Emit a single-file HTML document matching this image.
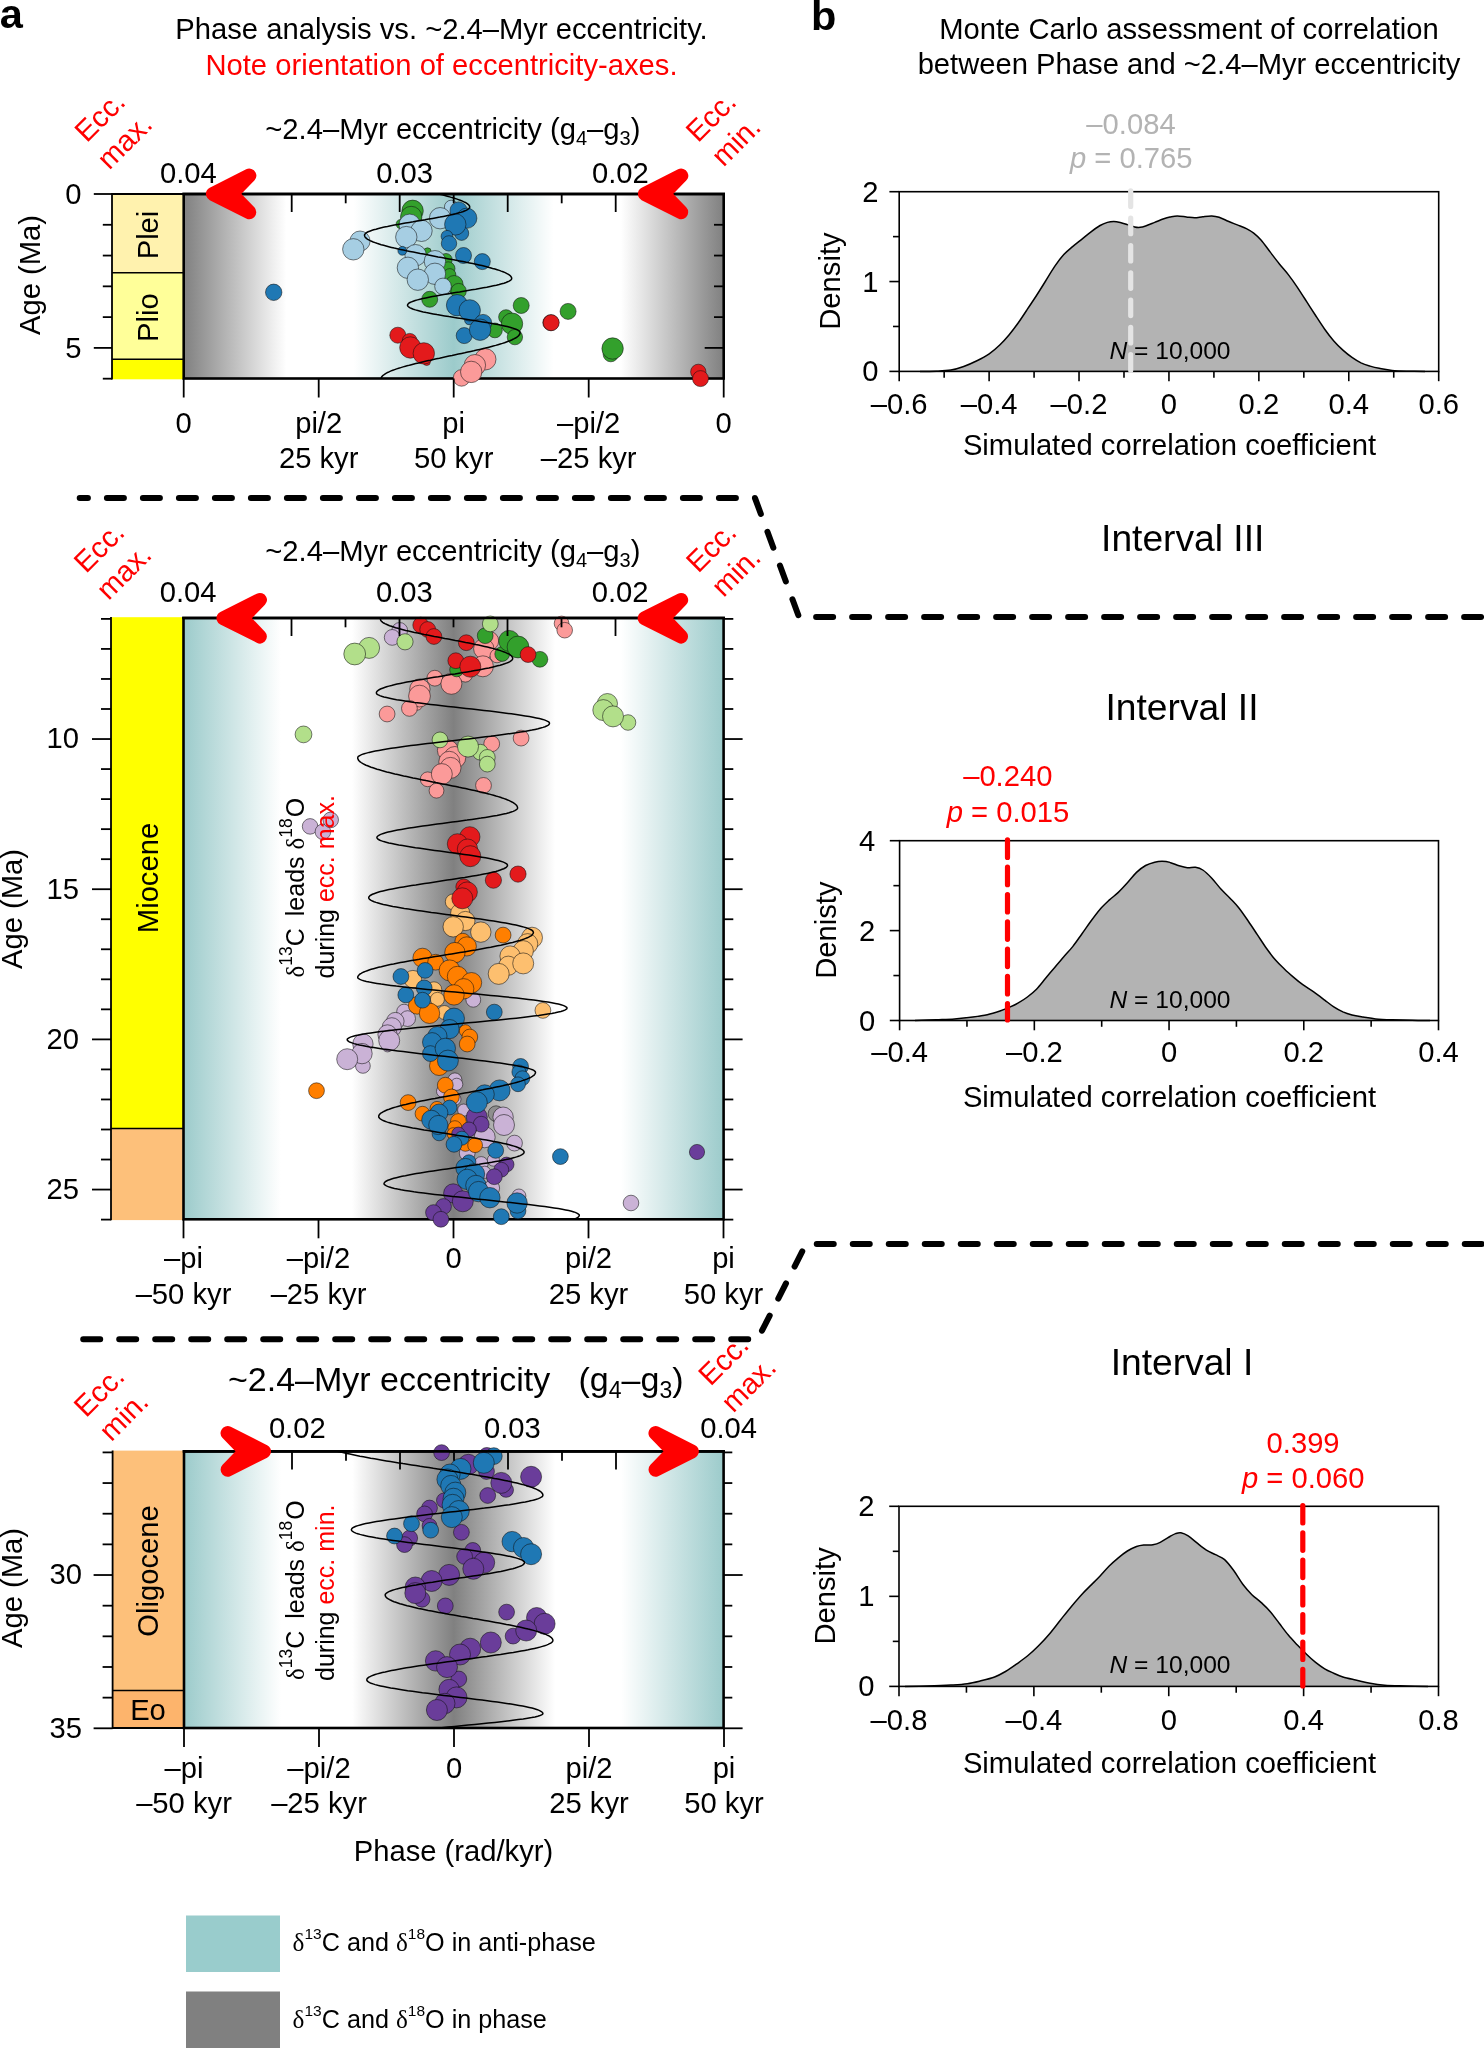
<!DOCTYPE html>
<html><head><meta charset="utf-8"><title>Figure</title>
<style>html,body{margin:0;padding:0;background:#fff}svg{display:block;will-change:transform}text{font-family:'Liberation Sans', sans-serif;}circle{stroke:#111;stroke-width:.55}.d{font-family:'Liberation Serif',serif}</style></head><body>
<svg width="1484" height="2048" viewBox="0 0 1484 2048">
<defs>
<linearGradient id="g1" x1="0" x2="1" y1="0" y2="0">
<stop offset="0" stop-color="#808080"/><stop offset="0.19" stop-color="#fff"/><stop offset="0.315" stop-color="#fff"/>
<stop offset="0.5" stop-color="#9ccbcb"/><stop offset="0.685" stop-color="#fff"/><stop offset="0.81" stop-color="#fff"/><stop offset="1" stop-color="#808080"/></linearGradient>
<linearGradient id="g2" x1="0" x2="1" y1="0" y2="0">
<stop offset="0" stop-color="#9ccbcb"/><stop offset="0.18" stop-color="#fff"/><stop offset="0.312" stop-color="#fff"/>
<stop offset="0.5" stop-color="#808080"/><stop offset="0.688" stop-color="#fff"/><stop offset="0.81" stop-color="#fff"/><stop offset="1" stop-color="#9ccbcb"/></linearGradient>
<clipPath id="c1"><rect x="183.7" y="194" width="540" height="184.5"/></clipPath>
<clipPath id="c2"><rect x="183.5" y="618" width="540" height="601.3"/></clipPath>
<clipPath id="c3"><rect x="184" y="1451.4" width="540" height="276.6"/></clipPath>
</defs>
<rect width="1484" height="2048" fill="#fff"/>
<rect x="183.70" y="194.00" width="540.00" height="184.50" fill="url(#g1)" stroke="none" stroke-width="0"/>
<rect x="112.00" y="194.00" width="71.70" height="78.70" fill="#FFF2AE" stroke="none" stroke-width="0"/>
<rect x="112.00" y="272.70" width="71.70" height="86.60" fill="#FFFF99" stroke="none" stroke-width="0"/>
<rect x="112.00" y="359.30" width="71.70" height="20.00" fill="#FFFF00" stroke="none" stroke-width="0"/>
<line x1="112.00" y1="272.70" x2="183.70" y2="272.70" stroke="#000" stroke-width="1.6" stroke-linecap="butt"/>
<line x1="112.00" y1="359.30" x2="183.70" y2="359.30" stroke="#000" stroke-width="1.6" stroke-linecap="butt"/>
<line x1="112.00" y1="194.00" x2="183.70" y2="194.00" stroke="#000" stroke-width="1.8" stroke-linecap="butt"/>
<line x1="112.00" y1="193.00" x2="112.00" y2="379.50" stroke="#000" stroke-width="1.8" stroke-linecap="butt"/>
<line x1="93.80" y1="194.00" x2="112.00" y2="194.00" stroke="#000" stroke-width="1.8" stroke-linecap="butt"/>
<line x1="102.80" y1="224.78" x2="112.00" y2="224.78" stroke="#000" stroke-width="1.8" stroke-linecap="butt"/>
<line x1="102.80" y1="255.56" x2="112.00" y2="255.56" stroke="#000" stroke-width="1.8" stroke-linecap="butt"/>
<line x1="102.80" y1="286.34" x2="112.00" y2="286.34" stroke="#000" stroke-width="1.8" stroke-linecap="butt"/>
<line x1="102.80" y1="317.12" x2="112.00" y2="317.12" stroke="#000" stroke-width="1.8" stroke-linecap="butt"/>
<line x1="93.80" y1="347.90" x2="112.00" y2="347.90" stroke="#000" stroke-width="1.8" stroke-linecap="butt"/>
<line x1="102.80" y1="378.68" x2="112.00" y2="378.68" stroke="#000" stroke-width="1.8" stroke-linecap="butt"/>
<line x1="714.00" y1="224.78" x2="723.70" y2="224.78" stroke="#000" stroke-width="1.8" stroke-linecap="butt"/>
<line x1="714.00" y1="255.56" x2="723.70" y2="255.56" stroke="#000" stroke-width="1.8" stroke-linecap="butt"/>
<line x1="714.00" y1="286.34" x2="723.70" y2="286.34" stroke="#000" stroke-width="1.8" stroke-linecap="butt"/>
<line x1="714.00" y1="317.12" x2="723.70" y2="317.12" stroke="#000" stroke-width="1.8" stroke-linecap="butt"/>
<line x1="704.70" y1="347.90" x2="723.70" y2="347.90" stroke="#000" stroke-width="1.8" stroke-linecap="butt"/>
<g clip-path="url(#c1)">
</g>
<rect x="183.70" y="194.00" width="540.00" height="184.50" fill="none" stroke="#000" stroke-width="2.6"/>
<circle cx="412.6" cy="210.8" r="10.7" fill="#33A02C"/>
<circle cx="411.2" cy="217.0" r="10.7" fill="#33A02C"/>
<circle cx="400.8" cy="224.1" r="4.7" fill="#33A02C"/>
<circle cx="427.5" cy="251.5" r="3.7" fill="#33A02C"/>
<circle cx="446.0" cy="259.7" r="6.2" fill="#33A02C"/>
<circle cx="448.2" cy="268.6" r="6.8" fill="#33A02C"/>
<circle cx="449.7" cy="274.8" r="6.2" fill="#33A02C"/>
<circle cx="454.2" cy="284.4" r="8.9" fill="#33A02C"/>
<circle cx="458.6" cy="291.1" r="7.7" fill="#33A02C"/>
<circle cx="429.7" cy="299.3" r="8.0" fill="#33A02C"/>
<circle cx="521.2" cy="305.5" r="8.0" fill="#33A02C"/>
<circle cx="506.0" cy="317.1" r="7.4" fill="#33A02C"/>
<circle cx="512.0" cy="323.7" r="10.7" fill="#33A02C"/>
<circle cx="494.9" cy="330.4" r="7.4" fill="#33A02C"/>
<circle cx="514.9" cy="337.1" r="7.7" fill="#33A02C"/>
<circle cx="568.1" cy="311.4" r="8.0" fill="#33A02C"/>
<circle cx="610.8" cy="354.1" r="7.7" fill="#33A02C"/>
<circle cx="612.6" cy="348.5" r="10.7" fill="#33A02C"/>
<circle cx="451.2" cy="207.0" r="6.8" fill="#A6CEE3"/>
<circle cx="440.1" cy="218.2" r="10.7" fill="#A6CEE3"/>
<circle cx="409.7" cy="224.8" r="10.7" fill="#A6CEE3"/>
<circle cx="421.5" cy="230.8" r="10.7" fill="#A6CEE3"/>
<circle cx="406.3" cy="237.1" r="10.7" fill="#A6CEE3"/>
<circle cx="360.0" cy="241.1" r="10.1" fill="#A6CEE3"/>
<circle cx="353.3" cy="249.3" r="10.7" fill="#A6CEE3"/>
<circle cx="415.6" cy="255.2" r="10.7" fill="#A6CEE3"/>
<circle cx="434.9" cy="261.2" r="10.7" fill="#A6CEE3"/>
<circle cx="407.9" cy="267.8" r="10.7" fill="#A6CEE3"/>
<circle cx="434.9" cy="273.8" r="10.7" fill="#A6CEE3"/>
<circle cx="417.8" cy="279.7" r="10.7" fill="#A6CEE3"/>
<circle cx="443.0" cy="286.4" r="8.3" fill="#A6CEE3"/>
<circle cx="402.3" cy="250.8" r="4.4" fill="#1F78B4"/>
<circle cx="458.6" cy="210.5" r="8.6" fill="#1F78B4"/>
<circle cx="466.8" cy="218.2" r="10.1" fill="#1F78B4"/>
<circle cx="461.6" cy="233.3" r="7.1" fill="#1F78B4"/>
<circle cx="455.3" cy="224.4" r="10.7" fill="#1F78B4"/>
<circle cx="447.0" cy="236.3" r="5.9" fill="#1F78B4"/>
<circle cx="449.0" cy="243.4" r="7.7" fill="#1F78B4"/>
<circle cx="463.5" cy="255.5" r="8.0" fill="#1F78B4"/>
<circle cx="482.3" cy="261.6" r="8.0" fill="#1F78B4"/>
<circle cx="469.0" cy="320.3" r="4.4" fill="#1F78B4"/>
<circle cx="457.1" cy="305.2" r="10.7" fill="#1F78B4"/>
<circle cx="469.7" cy="310.4" r="10.7" fill="#1F78B4"/>
<circle cx="483.1" cy="323.0" r="8.6" fill="#1F78B4"/>
<circle cx="464.2" cy="335.6" r="8.0" fill="#1F78B4"/>
<circle cx="480.1" cy="329.7" r="10.7" fill="#1F78B4"/>
<circle cx="273.7" cy="292.3" r="8.2" fill="#1F78B4"/>
<circle cx="426.7" cy="361.8" r="3.7" fill="#E31A1C"/>
<circle cx="397.8" cy="335.2" r="8.0" fill="#E31A1C"/>
<circle cx="409.7" cy="340.8" r="7.4" fill="#E31A1C"/>
<circle cx="410.4" cy="347.5" r="10.7" fill="#E31A1C"/>
<circle cx="423.8" cy="353.4" r="10.7" fill="#E31A1C"/>
<circle cx="550.8" cy="322.7" r="8.0" fill="#E31A1C"/>
<circle cx="551.2" cy="322.7" r="8.0" fill="#E31A1C"/>
<circle cx="698.3" cy="371.9" r="7.7" fill="#E31A1C"/>
<circle cx="700.5" cy="378.6" r="8.0" fill="#E31A1C"/>
<circle cx="485.3" cy="359.3" r="10.7" fill="#FB9A99"/>
<circle cx="474.9" cy="365.2" r="10.7" fill="#FB9A99"/>
<circle cx="461.6" cy="377.9" r="8.3" fill="#FB9A99"/>
<circle cx="471.2" cy="371.9" r="10.7" fill="#FB9A99"/>
<path d="M405.0,180.0 L405.1,180.7 L405.4,181.3 L405.9,182.0 L406.6,182.7 L407.5,183.4 L408.5,184.1 L409.8,184.7 L411.2,185.4 L412.8,186.1 L414.5,186.8 L416.3,187.4 L418.3,188.1 L420.4,188.8 L422.7,189.4 L425.0,190.1 L427.4,190.8 L429.8,191.5 L432.3,192.2 L434.8,192.8 L437.3,193.5 L439.9,194.2 L442.4,194.8 L444.9,195.5 L447.3,196.2 L449.7,196.9 L452.0,197.6 L454.3,198.2 L456.4,198.9 L458.4,199.6 L460.2,200.2 L461.9,200.9 L463.5,201.6 L464.9,202.3 L466.2,202.9 L467.2,203.6 L468.1,204.3 L468.8,205.0 L469.3,205.7 L469.6,206.3 L469.7,207.0 L469.6,207.7 L469.1,208.3 L468.4,209.0 L467.4,209.7 L466.1,210.4 L464.5,211.0 L462.7,211.7 L460.6,212.4 L458.2,213.0 L455.7,213.7 L452.9,214.4 L449.9,215.1 L446.7,215.7 L443.4,216.4 L439.9,217.1 L436.3,217.7 L432.6,218.4 L428.8,219.1 L424.9,219.8 L421.0,220.4 L417.1,221.1 L413.2,221.8 L409.3,222.4 L405.4,223.1 L401.6,223.8 L397.9,224.5 L394.3,225.1 L390.8,225.8 L387.5,226.5 L384.3,227.1 L381.3,227.8 L378.5,228.5 L376.0,229.2 L373.6,229.8 L371.5,230.5 L369.7,231.2 L368.1,231.8 L366.8,232.5 L365.8,233.2 L365.1,233.9 L364.6,234.5 L364.5,235.2 L364.6,235.9 L364.9,236.6 L365.3,237.2 L365.9,237.9 L366.7,238.6 L367.7,239.3 L368.8,239.9 L370.1,240.6 L371.6,241.3 L373.2,242.0 L375.0,242.6 L376.9,243.3 L379.0,244.0 L381.2,244.7 L383.6,245.3 L386.1,246.0 L388.7,246.7 L391.4,247.4 L394.3,248.1 L397.2,248.7 L400.3,249.4 L403.4,250.1 L406.6,250.8 L409.9,251.4 L413.3,252.1 L416.7,252.8 L420.2,253.5 L423.7,254.1 L427.3,254.8 L430.9,255.5 L434.5,256.2 L438.1,256.9 L441.7,257.5 L445.3,258.2 L448.9,258.9 L452.5,259.6 L456.0,260.2 L459.5,260.9 L462.9,261.6 L466.3,262.3 L469.6,262.9 L472.8,263.6 L475.9,264.3 L479.0,265.0 L481.9,265.6 L484.8,266.3 L487.5,267.0 L490.1,267.7 L492.6,268.4 L495.0,269.0 L497.2,269.7 L499.3,270.4 L501.2,271.1 L503.0,271.7 L504.6,272.4 L506.1,273.1 L507.4,273.8 L508.5,274.4 L509.5,275.1 L510.3,275.8 L510.9,276.5 L511.3,277.1 L511.6,277.8 L511.7,278.5 L511.5,279.2 L511.1,279.8 L510.3,280.5 L509.2,281.2 L507.7,281.8 L506.0,282.5 L504.0,283.2 L501.7,283.8 L499.2,284.5 L496.4,285.2 L493.4,285.8 L490.2,286.5 L486.8,287.2 L483.3,287.8 L479.5,288.5 L475.7,289.2 L471.8,289.8 L467.8,290.5 L463.7,291.2 L459.6,291.9 L455.5,292.5 L451.4,293.2 L447.4,293.9 L443.5,294.5 L439.7,295.2 L435.9,295.9 L432.4,296.5 L429.0,297.2 L425.8,297.9 L422.8,298.5 L420.0,299.2 L417.5,299.9 L415.2,300.5 L413.2,301.2 L411.5,301.9 L410.0,302.5 L408.9,303.2 L408.1,303.9 L407.7,304.5 L407.5,305.2 L407.7,305.9 L408.2,306.5 L409.0,307.2 L410.1,307.9 L411.6,308.5 L413.3,309.2 L415.4,309.9 L417.8,310.5 L420.4,311.2 L423.2,311.9 L426.3,312.6 L429.7,313.2 L433.2,313.9 L436.9,314.6 L440.8,315.2 L444.8,315.9 L448.9,316.6 L453.1,317.2 L457.3,317.9 L461.6,318.6 L466.0,319.2 L470.3,319.9 L474.5,320.6 L478.7,321.2 L482.8,321.9 L486.8,322.6 L490.7,323.2 L494.4,323.9 L497.9,324.6 L501.3,325.2 L504.4,325.9 L507.2,326.6 L509.8,327.3 L512.2,327.9 L514.3,328.6 L516.0,329.3 L517.5,329.9 L518.6,330.6 L519.4,331.3 L519.9,331.9 L520.1,332.6 L520.0,333.3 L519.8,333.9 L519.5,334.6 L518.9,335.3 L518.3,336.0 L517.5,336.6 L516.6,337.3 L515.5,338.0 L514.3,338.7 L513.0,339.3 L511.6,340.0 L510.0,340.7 L508.3,341.3 L506.4,342.0 L504.5,342.7 L502.4,343.4 L500.3,344.0 L498.0,344.7 L495.7,345.4 L493.2,346.0 L490.7,346.7 L488.0,347.4 L485.3,348.1 L482.5,348.7 L479.7,349.4 L476.8,350.1 L473.8,350.8 L470.8,351.4 L467.8,352.1 L464.7,352.8 L461.6,353.4 L458.4,354.1 L455.3,354.8 L452.1,355.5 L449.0,356.1 L445.8,356.8 L442.7,357.5 L439.5,358.2 L436.4,358.8 L433.3,359.5 L430.3,360.2 L427.3,360.8 L424.3,361.5 L421.4,362.2 L418.6,362.9 L415.8,363.5 L413.1,364.2 L410.4,364.9 L407.9,365.6 L405.4,366.2 L403.1,366.9 L400.8,367.6 L398.7,368.2 L396.6,368.9 L394.7,369.6 L392.8,370.3 L391.1,370.9 L389.5,371.6 L388.1,372.3 L386.8,372.9 L385.6,373.6 L384.5,374.3 L383.6,375.0 L382.8,375.6 L382.2,376.3 L381.6,377.0 L381.3,377.7 L381.1,378.3 L381.0,379.0" fill="none" stroke="#000" stroke-width="1.5" clip-path="url(#c1)"/>
<line x1="237.70" y1="194.00" x2="237.70" y2="203.30" stroke="#000" stroke-width="1.8" stroke-linecap="butt"/>
<line x1="291.70" y1="194.00" x2="291.70" y2="212.00" stroke="#000" stroke-width="1.8" stroke-linecap="butt"/>
<line x1="345.70" y1="194.00" x2="345.70" y2="203.30" stroke="#000" stroke-width="1.8" stroke-linecap="butt"/>
<line x1="399.70" y1="194.00" x2="399.70" y2="212.00" stroke="#000" stroke-width="1.8" stroke-linecap="butt"/>
<line x1="453.70" y1="194.00" x2="453.70" y2="203.30" stroke="#000" stroke-width="1.8" stroke-linecap="butt"/>
<line x1="507.70" y1="194.00" x2="507.70" y2="212.00" stroke="#000" stroke-width="1.8" stroke-linecap="butt"/>
<line x1="561.70" y1="194.00" x2="561.70" y2="203.30" stroke="#000" stroke-width="1.8" stroke-linecap="butt"/>
<line x1="615.70" y1="194.00" x2="615.70" y2="212.00" stroke="#000" stroke-width="1.8" stroke-linecap="butt"/>
<line x1="669.70" y1="194.00" x2="669.70" y2="203.30" stroke="#000" stroke-width="1.8" stroke-linecap="butt"/>
<line x1="182.40" y1="194.00" x2="725.00" y2="194.00" stroke="#000" stroke-width="2.6" stroke-linecap="butt"/>
<line x1="183.70" y1="378.50" x2="183.70" y2="397.50" stroke="#000" stroke-width="1.8" stroke-linecap="butt"/>
<text x="183.70" y="432.60" font-size="29.2" text-anchor="middle" fill="#000">0</text>
<line x1="318.70" y1="378.50" x2="318.70" y2="397.50" stroke="#000" stroke-width="1.8" stroke-linecap="butt"/>
<text x="318.70" y="432.60" font-size="29.2" text-anchor="middle" fill="#000">pi/2</text>
<text x="318.70" y="468.20" font-size="29.2" text-anchor="middle" fill="#000">25 kyr</text>
<line x1="453.70" y1="378.50" x2="453.70" y2="397.50" stroke="#000" stroke-width="1.8" stroke-linecap="butt"/>
<text x="453.70" y="432.60" font-size="29.2" text-anchor="middle" fill="#000">pi</text>
<text x="453.70" y="468.20" font-size="29.2" text-anchor="middle" fill="#000">50 kyr</text>
<line x1="588.70" y1="378.50" x2="588.70" y2="397.50" stroke="#000" stroke-width="1.8" stroke-linecap="butt"/>
<text x="588.70" y="432.60" font-size="29.2" text-anchor="middle" fill="#000">–pi/2</text>
<text x="588.70" y="468.20" font-size="29.2" text-anchor="middle" fill="#000">–25 kyr</text>
<line x1="723.70" y1="378.50" x2="723.70" y2="397.50" stroke="#000" stroke-width="1.8" stroke-linecap="butt"/>
<text x="723.70" y="432.60" font-size="29.2" text-anchor="middle" fill="#000">0</text>
<text x="81.50" y="203.80" font-size="29.2" text-anchor="end" fill="#000">0</text>
<text x="81.50" y="357.80" font-size="29.2" text-anchor="end" fill="#000">5</text>
<text x="40.40" y="275.00" font-size="29.2" text-anchor="middle" fill="#000" transform="rotate(-90 40.40 275.00)">Age (Ma)</text>
<text x="157.70" y="235.00" font-size="29.2" text-anchor="middle" fill="#000" transform="rotate(-90 157.70 235.00)">Plei</text>
<text x="157.70" y="317.60" font-size="29.2" text-anchor="middle" fill="#000" transform="rotate(-90 157.70 317.60)">Plio</text>
<text x="188.40" y="182.80" font-size="29.2" text-anchor="middle" fill="#000">0.04</text>
<text x="404.60" y="182.80" font-size="29.2" text-anchor="middle" fill="#000">0.03</text>
<text x="620.40" y="182.80" font-size="29.2" text-anchor="middle" fill="#000">0.02</text>
<text x="265.3" y="138.5" font-size="29.2" fill="#000">~2.4–Myr eccentricity (g<tspan font-size="20" dy="6">4</tspan><tspan dy="-6">–g</tspan><tspan font-size="20" dy="6">3</tspan><tspan dy="-6">)</tspan></text>
<polygon points="212.9,193.9 249.3,175.6 231.6,193.9 249.3,212.2" fill="#f00" stroke="#f00" stroke-width="14" stroke-linejoin="round"/>
<polygon points="644.8,193.9 681.2,175.6 663.5,193.9 681.2,212.2" fill="#f00" stroke="#f00" stroke-width="14" stroke-linejoin="round"/>
<text x="86.80" y="143.60" font-size="29.2" text-anchor="start" fill="#f00" transform="rotate(-45 86.80 143.60)">Ecc.</text>
<text x="109.30" y="170.80" font-size="29.2" text-anchor="start" fill="#f00" transform="rotate(-45 109.30 170.80)">max.</text>
<text x="697.90" y="143.60" font-size="29.2" text-anchor="start" fill="#f00" transform="rotate(-45 697.90 143.60)">Ecc.</text>
<text x="723.50" y="167.70" font-size="29.2" text-anchor="start" fill="#f00" transform="rotate(-45 723.50 167.70)">min.</text>
<text x="-0.30" y="27.50" font-size="41.5" text-anchor="start" fill="#000" font-weight="bold">a</text>
<text x="441.50" y="39.30" font-size="29.2" text-anchor="middle" fill="#000">Phase analysis vs. ~2.4–Myr eccentricity.</text>
<text x="441.50" y="74.50" font-size="29.2" text-anchor="middle" fill="#f00">Note orientation of eccentricity-axes.</text>
<rect x="183.50" y="618.00" width="540.10" height="601.30" fill="url(#g2)" stroke="none" stroke-width="0"/>
<rect x="111.00" y="617.20" width="72.50" height="511.30" fill="#FFFF00" stroke="none" stroke-width="0"/>
<rect x="111.00" y="1128.50" width="72.50" height="91.60" fill="#FDC07A" stroke="none" stroke-width="0"/>
<line x1="111.00" y1="1128.50" x2="183.50" y2="1128.50" stroke="#000" stroke-width="1.6" stroke-linecap="butt"/>
<line x1="111.00" y1="617.00" x2="111.00" y2="1220.30" stroke="#000" stroke-width="1.8" stroke-linecap="butt"/>
<line x1="101.00" y1="618.90" x2="111.00" y2="618.90" stroke="#000" stroke-width="1.8" stroke-linecap="butt"/>
<line x1="723.60" y1="618.90" x2="733.30" y2="618.90" stroke="#000" stroke-width="1.8" stroke-linecap="butt"/>
<line x1="101.00" y1="648.93" x2="111.00" y2="648.93" stroke="#000" stroke-width="1.8" stroke-linecap="butt"/>
<line x1="723.60" y1="648.93" x2="733.30" y2="648.93" stroke="#000" stroke-width="1.8" stroke-linecap="butt"/>
<line x1="101.00" y1="678.97" x2="111.00" y2="678.97" stroke="#000" stroke-width="1.8" stroke-linecap="butt"/>
<line x1="723.60" y1="678.97" x2="733.30" y2="678.97" stroke="#000" stroke-width="1.8" stroke-linecap="butt"/>
<line x1="101.00" y1="709.00" x2="111.00" y2="709.00" stroke="#000" stroke-width="1.8" stroke-linecap="butt"/>
<line x1="723.60" y1="709.00" x2="733.30" y2="709.00" stroke="#000" stroke-width="1.8" stroke-linecap="butt"/>
<line x1="92.00" y1="739.04" x2="111.00" y2="739.04" stroke="#000" stroke-width="1.8" stroke-linecap="butt"/>
<line x1="723.60" y1="739.04" x2="742.60" y2="739.04" stroke="#000" stroke-width="1.8" stroke-linecap="butt"/>
<line x1="101.00" y1="769.07" x2="111.00" y2="769.07" stroke="#000" stroke-width="1.8" stroke-linecap="butt"/>
<line x1="723.60" y1="769.07" x2="733.30" y2="769.07" stroke="#000" stroke-width="1.8" stroke-linecap="butt"/>
<line x1="101.00" y1="799.11" x2="111.00" y2="799.11" stroke="#000" stroke-width="1.8" stroke-linecap="butt"/>
<line x1="723.60" y1="799.11" x2="733.30" y2="799.11" stroke="#000" stroke-width="1.8" stroke-linecap="butt"/>
<line x1="101.00" y1="829.14" x2="111.00" y2="829.14" stroke="#000" stroke-width="1.8" stroke-linecap="butt"/>
<line x1="723.60" y1="829.14" x2="733.30" y2="829.14" stroke="#000" stroke-width="1.8" stroke-linecap="butt"/>
<line x1="101.00" y1="859.18" x2="111.00" y2="859.18" stroke="#000" stroke-width="1.8" stroke-linecap="butt"/>
<line x1="723.60" y1="859.18" x2="733.30" y2="859.18" stroke="#000" stroke-width="1.8" stroke-linecap="butt"/>
<line x1="92.00" y1="889.21" x2="111.00" y2="889.21" stroke="#000" stroke-width="1.8" stroke-linecap="butt"/>
<line x1="723.60" y1="889.21" x2="742.60" y2="889.21" stroke="#000" stroke-width="1.8" stroke-linecap="butt"/>
<line x1="101.00" y1="919.25" x2="111.00" y2="919.25" stroke="#000" stroke-width="1.8" stroke-linecap="butt"/>
<line x1="723.60" y1="919.25" x2="733.30" y2="919.25" stroke="#000" stroke-width="1.8" stroke-linecap="butt"/>
<line x1="101.00" y1="949.28" x2="111.00" y2="949.28" stroke="#000" stroke-width="1.8" stroke-linecap="butt"/>
<line x1="723.60" y1="949.28" x2="733.30" y2="949.28" stroke="#000" stroke-width="1.8" stroke-linecap="butt"/>
<line x1="101.00" y1="979.32" x2="111.00" y2="979.32" stroke="#000" stroke-width="1.8" stroke-linecap="butt"/>
<line x1="723.60" y1="979.32" x2="733.30" y2="979.32" stroke="#000" stroke-width="1.8" stroke-linecap="butt"/>
<line x1="101.00" y1="1009.35" x2="111.00" y2="1009.35" stroke="#000" stroke-width="1.8" stroke-linecap="butt"/>
<line x1="723.60" y1="1009.35" x2="733.30" y2="1009.35" stroke="#000" stroke-width="1.8" stroke-linecap="butt"/>
<line x1="92.00" y1="1039.39" x2="111.00" y2="1039.39" stroke="#000" stroke-width="1.8" stroke-linecap="butt"/>
<line x1="723.60" y1="1039.39" x2="742.60" y2="1039.39" stroke="#000" stroke-width="1.8" stroke-linecap="butt"/>
<line x1="101.00" y1="1069.42" x2="111.00" y2="1069.42" stroke="#000" stroke-width="1.8" stroke-linecap="butt"/>
<line x1="723.60" y1="1069.42" x2="733.30" y2="1069.42" stroke="#000" stroke-width="1.8" stroke-linecap="butt"/>
<line x1="101.00" y1="1099.46" x2="111.00" y2="1099.46" stroke="#000" stroke-width="1.8" stroke-linecap="butt"/>
<line x1="723.60" y1="1099.46" x2="733.30" y2="1099.46" stroke="#000" stroke-width="1.8" stroke-linecap="butt"/>
<line x1="101.00" y1="1129.49" x2="111.00" y2="1129.49" stroke="#000" stroke-width="1.8" stroke-linecap="butt"/>
<line x1="723.60" y1="1129.49" x2="733.30" y2="1129.49" stroke="#000" stroke-width="1.8" stroke-linecap="butt"/>
<line x1="101.00" y1="1159.53" x2="111.00" y2="1159.53" stroke="#000" stroke-width="1.8" stroke-linecap="butt"/>
<line x1="723.60" y1="1159.53" x2="733.30" y2="1159.53" stroke="#000" stroke-width="1.8" stroke-linecap="butt"/>
<line x1="92.00" y1="1189.56" x2="111.00" y2="1189.56" stroke="#000" stroke-width="1.8" stroke-linecap="butt"/>
<line x1="723.60" y1="1189.56" x2="742.60" y2="1189.56" stroke="#000" stroke-width="1.8" stroke-linecap="butt"/>
<line x1="101.00" y1="1219.60" x2="111.00" y2="1219.60" stroke="#000" stroke-width="1.8" stroke-linecap="butt"/>
<line x1="723.60" y1="1219.60" x2="733.30" y2="1219.60" stroke="#000" stroke-width="1.8" stroke-linecap="butt"/>
<rect x="183.50" y="618.00" width="540.10" height="601.30" fill="none" stroke="#000" stroke-width="2.6"/>
<circle cx="399.7" cy="630.4" r="7.9" fill="#CAB2D6"/>
<circle cx="392.2" cy="637.4" r="7.9" fill="#CAB2D6"/>
<circle cx="310.1" cy="826.4" r="7.8" fill="#CAB2D6"/>
<circle cx="322.9" cy="831.8" r="7.8" fill="#CAB2D6"/>
<circle cx="330.7" cy="819.9" r="7.8" fill="#CAB2D6"/>
<circle cx="489.1" cy="640.9" r="9.6" fill="#FB9A99"/>
<circle cx="483.8" cy="648.8" r="10.2" fill="#FB9A99"/>
<circle cx="497.0" cy="655.8" r="7.0" fill="#FB9A99"/>
<circle cx="482.9" cy="666.3" r="10.5" fill="#FB9A99"/>
<circle cx="465.4" cy="675.1" r="7.0" fill="#FB9A99"/>
<circle cx="434.8" cy="678.2" r="7.9" fill="#FB9A99"/>
<circle cx="451.4" cy="683.8" r="10.5" fill="#FB9A99"/>
<circle cx="419.9" cy="689.1" r="10.2" fill="#FB9A99"/>
<circle cx="417.2" cy="704.9" r="5.3" fill="#FB9A99"/>
<circle cx="419.5" cy="696.1" r="10.9" fill="#FB9A99"/>
<circle cx="409.4" cy="708.4" r="7.9" fill="#FB9A99"/>
<circle cx="387.1" cy="714.0" r="7.9" fill="#FB9A99"/>
<circle cx="521.1" cy="738.1" r="7.9" fill="#FB9A99"/>
<circle cx="491.7" cy="743.8" r="7.9" fill="#FB9A99"/>
<circle cx="447.9" cy="750.4" r="10.5" fill="#FB9A99"/>
<circle cx="454.9" cy="757.4" r="10.9" fill="#FB9A99"/>
<circle cx="449.3" cy="761.8" r="10.5" fill="#FB9A99"/>
<circle cx="450.5" cy="767.9" r="10.5" fill="#FB9A99"/>
<circle cx="427.7" cy="779.3" r="7.4" fill="#FB9A99"/>
<circle cx="441.8" cy="774.1" r="10.5" fill="#FB9A99"/>
<circle cx="436.5" cy="790.7" r="7.4" fill="#FB9A99"/>
<circle cx="483.5" cy="785.4" r="7.9" fill="#FB9A99"/>
<circle cx="561.6" cy="623.5" r="7.4" fill="#FB9A99"/>
<circle cx="564.7" cy="630.2" r="7.8" fill="#FB9A99"/>
<circle cx="456.7" cy="669.8" r="7.0" fill="#33A02C"/>
<circle cx="485.2" cy="635.7" r="7.9" fill="#33A02C"/>
<circle cx="502.2" cy="654.0" r="7.4" fill="#33A02C"/>
<circle cx="509.2" cy="640.9" r="10.5" fill="#33A02C"/>
<circle cx="518.0" cy="647.0" r="10.9" fill="#33A02C"/>
<circle cx="539.9" cy="659.3" r="7.9" fill="#33A02C"/>
<circle cx="405.0" cy="641.8" r="8.1" fill="#B2DF8A"/>
<circle cx="369.1" cy="647.9" r="10.5" fill="#B2DF8A"/>
<circle cx="354.7" cy="654.0" r="10.9" fill="#B2DF8A"/>
<circle cx="490.3" cy="623.9" r="7.9" fill="#B2DF8A"/>
<circle cx="440.0" cy="739.9" r="7.9" fill="#B2DF8A"/>
<circle cx="480.3" cy="752.2" r="7.9" fill="#B2DF8A"/>
<circle cx="487.3" cy="757.4" r="7.9" fill="#B2DF8A"/>
<circle cx="487.3" cy="764.1" r="7.9" fill="#B2DF8A"/>
<circle cx="468.0" cy="746.6" r="10.5" fill="#B2DF8A"/>
<circle cx="607.4" cy="703.6" r="10.1" fill="#B2DF8A"/>
<circle cx="603.3" cy="710.1" r="10.5" fill="#B2DF8A"/>
<circle cx="628.0" cy="722.5" r="7.8" fill="#B2DF8A"/>
<circle cx="613.0" cy="716.4" r="10.5" fill="#B2DF8A"/>
<circle cx="303.5" cy="734.4" r="8.4" fill="#B2DF8A"/>
<circle cx="420.7" cy="625.1" r="7.9" fill="#E31A1C"/>
<circle cx="427.7" cy="629.5" r="7.9" fill="#E31A1C"/>
<circle cx="433.9" cy="636.5" r="7.9" fill="#E31A1C"/>
<circle cx="466.3" cy="642.7" r="7.9" fill="#E31A1C"/>
<circle cx="455.8" cy="660.7" r="7.9" fill="#E31A1C"/>
<circle cx="470.3" cy="666.7" r="10.5" fill="#E31A1C"/>
<circle cx="528.1" cy="654.6" r="7.9" fill="#E31A1C"/>
<circle cx="453.2" cy="901.8" r="7.9" fill="#FDBF6F"/>
<circle cx="460.2" cy="913.2" r="9.6" fill="#FDBF6F"/>
<circle cx="465.4" cy="921.0" r="9.6" fill="#FDBF6F"/>
<circle cx="453.2" cy="926.8" r="10.2" fill="#FDBF6F"/>
<circle cx="480.8" cy="932.1" r="10.2" fill="#FDBF6F"/>
<circle cx="532.0" cy="937.7" r="10.5" fill="#FDBF6F"/>
<circle cx="527.6" cy="943.8" r="10.2" fill="#FDBF6F"/>
<circle cx="523.2" cy="950.8" r="10.2" fill="#FDBF6F"/>
<circle cx="510.1" cy="956.1" r="10.2" fill="#FDBF6F"/>
<circle cx="508.3" cy="965.7" r="9.6" fill="#FDBF6F"/>
<circle cx="523.2" cy="963.4" r="10.5" fill="#FDBF6F"/>
<circle cx="498.7" cy="973.9" r="10.5" fill="#FDBF6F"/>
<circle cx="412.9" cy="979.2" r="8.8" fill="#FDBF6F"/>
<circle cx="433.9" cy="989.7" r="7.9" fill="#FDBF6F"/>
<circle cx="437.4" cy="999.3" r="7.0" fill="#FDBF6F"/>
<circle cx="444.4" cy="1012.5" r="7.0" fill="#FDBF6F"/>
<circle cx="542.9" cy="1010.4" r="7.9" fill="#FDBF6F"/>
<circle cx="469.8" cy="836.9" r="10.2" fill="#E31A1C"/>
<circle cx="457.5" cy="843.9" r="10.2" fill="#E31A1C"/>
<circle cx="467.5" cy="849.2" r="10.2" fill="#E31A1C"/>
<circle cx="470.3" cy="856.2" r="10.5" fill="#E31A1C"/>
<circle cx="518.0" cy="874.1" r="8.1" fill="#E31A1C"/>
<circle cx="493.4" cy="880.2" r="8.1" fill="#E31A1C"/>
<circle cx="463.7" cy="886.9" r="7.9" fill="#E31A1C"/>
<circle cx="467.2" cy="892.1" r="10.2" fill="#E31A1C"/>
<circle cx="462.3" cy="898.3" r="10.5" fill="#E31A1C"/>
<circle cx="473.3" cy="999.8" r="7.4" fill="#CAB2D6"/>
<circle cx="404.1" cy="1011.6" r="7.4" fill="#CAB2D6"/>
<circle cx="407.6" cy="1018.6" r="7.9" fill="#CAB2D6"/>
<circle cx="395.3" cy="1021.2" r="8.8" fill="#CAB2D6"/>
<circle cx="391.8" cy="1027.3" r="9.6" fill="#CAB2D6"/>
<circle cx="387.5" cy="1046.6" r="5.3" fill="#CAB2D6"/>
<circle cx="387.5" cy="1034.4" r="9.6" fill="#CAB2D6"/>
<circle cx="389.2" cy="1040.5" r="10.5" fill="#CAB2D6"/>
<circle cx="362.9" cy="1065.9" r="7.4" fill="#CAB2D6"/>
<circle cx="362.9" cy="1044.0" r="10.2" fill="#CAB2D6"/>
<circle cx="362.0" cy="1053.6" r="10.2" fill="#CAB2D6"/>
<circle cx="347.2" cy="1059.2" r="10.5" fill="#CAB2D6"/>
<circle cx="454.9" cy="1079.9" r="7.0" fill="#CAB2D6"/>
<circle cx="456.7" cy="1084.3" r="6.1" fill="#CAB2D6"/>
<circle cx="442.6" cy="1091.3" r="6.1" fill="#CAB2D6"/>
<circle cx="454.9" cy="1099.2" r="6.1" fill="#CAB2D6"/>
<circle cx="463.7" cy="1110.1" r="6.1" fill="#CAB2D6"/>
<circle cx="496.1" cy="1113.7" r="7.9" fill="#8E8E8E"/>
<circle cx="503.1" cy="1117.2" r="10.2" fill="#CAB2D6"/>
<circle cx="504.0" cy="1125.0" r="10.5" fill="#CAB2D6"/>
<circle cx="484.7" cy="1137.3" r="10.5" fill="#CAB2D6"/>
<circle cx="514.5" cy="1143.1" r="7.9" fill="#CAB2D6"/>
<circle cx="467.2" cy="1153.1" r="7.9" fill="#CAB2D6"/>
<circle cx="481.2" cy="1163.6" r="7.0" fill="#CAB2D6"/>
<circle cx="493.4" cy="1160.1" r="6.1" fill="#CAB2D6"/>
<circle cx="484.7" cy="1172.3" r="6.1" fill="#CAB2D6"/>
<circle cx="491.7" cy="1188.1" r="7.9" fill="#CAB2D6"/>
<circle cx="518.9" cy="1196.0" r="7.0" fill="#CAB2D6"/>
<circle cx="503.1" cy="935.1" r="7.9" fill="#FF7F00"/>
<circle cx="462.8" cy="941.2" r="7.9" fill="#FF7F00"/>
<circle cx="466.8" cy="946.4" r="9.6" fill="#FF7F00"/>
<circle cx="454.9" cy="952.6" r="10.2" fill="#FF7F00"/>
<circle cx="422.5" cy="957.8" r="9.6" fill="#FF7F00"/>
<circle cx="435.6" cy="962.2" r="7.9" fill="#FF7F00"/>
<circle cx="449.6" cy="970.4" r="10.5" fill="#FF7F00"/>
<circle cx="457.5" cy="976.5" r="10.2" fill="#FF7F00"/>
<circle cx="471.5" cy="982.7" r="10.2" fill="#FF7F00"/>
<circle cx="463.7" cy="988.8" r="10.2" fill="#FF7F00"/>
<circle cx="454.0" cy="994.9" r="10.2" fill="#FF7F00"/>
<circle cx="417.2" cy="1005.4" r="8.8" fill="#FF7F00"/>
<circle cx="429.5" cy="1013.3" r="10.2" fill="#FF7F00"/>
<circle cx="465.4" cy="1030.8" r="6.1" fill="#FF7F00"/>
<circle cx="469.8" cy="1037.0" r="7.9" fill="#FF7F00"/>
<circle cx="467.2" cy="1044.0" r="7.9" fill="#FF7F00"/>
<circle cx="439.1" cy="1065.9" r="9.6" fill="#FF7F00"/>
<circle cx="445.3" cy="1085.2" r="7.9" fill="#FF7F00"/>
<circle cx="408.1" cy="1102.6" r="7.9" fill="#FF7F00"/>
<circle cx="451.4" cy="1097.0" r="7.9" fill="#FF7F00"/>
<circle cx="422.5" cy="1113.7" r="7.4" fill="#FF7F00"/>
<circle cx="437.0" cy="1108.4" r="7.0" fill="#FF7F00"/>
<circle cx="458.4" cy="1121.5" r="7.9" fill="#FF7F00"/>
<circle cx="454.9" cy="1127.7" r="7.0" fill="#FF7F00"/>
<circle cx="453.2" cy="1133.8" r="6.1" fill="#FF7F00"/>
<circle cx="465.4" cy="1144.3" r="7.0" fill="#FF7F00"/>
<circle cx="475.1" cy="1145.2" r="7.4" fill="#FF7F00"/>
<circle cx="316.5" cy="1090.7" r="7.9" fill="#FF7F00"/>
<circle cx="476.8" cy="1117.2" r="10.5" fill="#6A3D9A"/>
<circle cx="481.2" cy="1124.2" r="7.9" fill="#6A3D9A"/>
<circle cx="468.9" cy="1129.4" r="7.4" fill="#6A3D9A"/>
<circle cx="458.4" cy="1133.8" r="6.7" fill="#6A3D9A"/>
<circle cx="506.6" cy="1164.5" r="7.4" fill="#6A3D9A"/>
<circle cx="501.3" cy="1169.7" r="7.4" fill="#6A3D9A"/>
<circle cx="494.3" cy="1176.7" r="7.9" fill="#6A3D9A"/>
<circle cx="453.2" cy="1193.4" r="9.6" fill="#6A3D9A"/>
<circle cx="462.8" cy="1201.3" r="10.5" fill="#6A3D9A"/>
<circle cx="443.5" cy="1206.5" r="7.9" fill="#6A3D9A"/>
<circle cx="433.5" cy="1212.6" r="7.9" fill="#6A3D9A"/>
<circle cx="440.9" cy="1219.3" r="7.9" fill="#6A3D9A"/>
<circle cx="697.0" cy="1152.0" r="7.6" fill="#6A3D9A"/>
<circle cx="425.1" cy="970.4" r="7.9" fill="#1F78B4"/>
<circle cx="400.9" cy="976.5" r="7.9" fill="#1F78B4"/>
<circle cx="424.2" cy="987.9" r="7.9" fill="#1F78B4"/>
<circle cx="405.8" cy="994.9" r="7.9" fill="#1F78B4"/>
<circle cx="422.5" cy="1000.2" r="7.9" fill="#1F78B4"/>
<circle cx="494.3" cy="1012.1" r="7.9" fill="#1F78B4"/>
<circle cx="454.0" cy="1018.6" r="10.5" fill="#1F78B4"/>
<circle cx="449.6" cy="1029.1" r="9.6" fill="#1F78B4"/>
<circle cx="437.4" cy="1036.1" r="9.6" fill="#1F78B4"/>
<circle cx="432.1" cy="1042.2" r="9.6" fill="#1F78B4"/>
<circle cx="430.4" cy="1053.6" r="7.9" fill="#1F78B4"/>
<circle cx="445.3" cy="1048.4" r="10.2" fill="#1F78B4"/>
<circle cx="447.9" cy="1060.6" r="10.5" fill="#1F78B4"/>
<circle cx="520.6" cy="1066.4" r="7.9" fill="#1F78B4"/>
<circle cx="518.9" cy="1072.0" r="7.0" fill="#1F78B4"/>
<circle cx="522.4" cy="1078.2" r="7.4" fill="#1F78B4"/>
<circle cx="518.0" cy="1084.3" r="7.4" fill="#1F78B4"/>
<circle cx="499.6" cy="1090.4" r="10.5" fill="#1F78B4"/>
<circle cx="484.7" cy="1094.4" r="9.6" fill="#1F78B4"/>
<circle cx="476.8" cy="1102.3" r="10.5" fill="#1F78B4"/>
<circle cx="449.6" cy="1107.5" r="7.4" fill="#1F78B4"/>
<circle cx="439.1" cy="1112.8" r="8.8" fill="#1F78B4"/>
<circle cx="431.3" cy="1119.8" r="9.6" fill="#1F78B4"/>
<circle cx="439.1" cy="1133.8" r="7.0" fill="#1F78B4"/>
<circle cx="438.3" cy="1125.0" r="9.6" fill="#1F78B4"/>
<circle cx="461.9" cy="1138.2" r="7.0" fill="#1F78B4"/>
<circle cx="454.0" cy="1144.3" r="7.9" fill="#1F78B4"/>
<circle cx="495.7" cy="1150.4" r="7.9" fill="#1F78B4"/>
<circle cx="560.4" cy="1156.6" r="7.9" fill="#1F78B4"/>
<circle cx="468.9" cy="1161.8" r="7.0" fill="#1F78B4"/>
<circle cx="465.4" cy="1168.0" r="9.6" fill="#1F78B4"/>
<circle cx="474.2" cy="1174.1" r="10.5" fill="#1F78B4"/>
<circle cx="467.2" cy="1179.4" r="10.2" fill="#1F78B4"/>
<circle cx="475.9" cy="1185.5" r="10.2" fill="#1F78B4"/>
<circle cx="478.6" cy="1191.6" r="10.2" fill="#1F78B4"/>
<circle cx="489.9" cy="1197.7" r="10.2" fill="#1F78B4"/>
<circle cx="518.0" cy="1210.9" r="7.9" fill="#1F78B4"/>
<circle cx="517.1" cy="1203.0" r="10.2" fill="#1F78B4"/>
<circle cx="501.3" cy="1216.7" r="7.9" fill="#1F78B4"/>
<circle cx="631.0" cy="1203.0" r="7.8" fill="#CAB2D6"/>
<path d="M380.4,619.0 L380.5,619.7 L380.8,620.3 L381.2,621.0 L381.9,621.7 L382.7,622.3 L383.7,623.0 L384.9,623.7 L386.3,624.3 L387.9,625.0 L389.6,625.7 L391.4,626.3 L393.5,627.0 L395.6,627.7 L397.9,628.3 L400.4,629.0 L403.0,629.7 L405.7,630.4 L408.5,631.0 L411.5,631.7 L414.5,632.4 L417.6,633.0 L420.8,633.7 L424.1,634.4 L427.5,635.0 L430.9,635.7 L434.3,636.4 L437.8,637.0 L441.3,637.7 L444.8,638.4 L448.3,639.0 L451.8,639.7 L455.3,640.4 L458.8,641.0 L462.2,641.7 L465.6,642.4 L469.0,643.0 L472.3,643.7 L475.5,644.4 L478.6,645.0 L481.6,645.7 L484.6,646.4 L487.4,647.0 L490.1,647.7 L492.7,648.4 L495.2,649.1 L497.5,649.7 L499.6,650.4 L501.7,651.1 L503.5,651.7 L505.2,652.4 L506.8,653.1 L508.2,653.7 L509.4,654.4 L510.4,655.1 L511.2,655.7 L511.9,656.4 L512.3,657.1 L512.6,657.7 L512.7,658.4 L512.6,659.1 L512.2,659.8 L511.5,660.4 L510.6,661.1 L509.5,661.8 L508.1,662.5 L506.5,663.1 L504.6,663.8 L502.5,664.5 L500.2,665.2 L497.6,665.8 L494.9,666.5 L492.0,667.2 L488.9,667.9 L485.6,668.5 L482.2,669.2 L478.6,669.9 L474.9,670.6 L471.1,671.3 L467.2,671.9 L463.2,672.6 L459.1,673.3 L455.0,674.0 L450.8,674.6 L446.6,675.3 L442.5,676.0 L438.3,676.7 L434.1,677.3 L430.0,678.0 L425.9,678.7 L421.9,679.4 L418.0,680.0 L414.2,680.7 L410.5,681.4 L406.9,682.1 L403.5,682.8 L400.2,683.4 L397.1,684.1 L394.2,684.8 L391.5,685.5 L388.9,686.1 L386.6,686.8 L384.5,687.5 L382.6,688.2 L381.0,688.8 L379.6,689.5 L378.5,690.2 L377.6,690.9 L376.9,691.5 L376.5,692.2 L376.4,692.9 L376.6,693.6 L377.2,694.3 L378.3,694.9 L379.8,695.6 L381.6,696.3 L383.9,697.0 L386.5,697.6 L389.6,698.3 L392.9,699.0 L396.6,699.7 L400.7,700.3 L405.0,701.0 L409.7,701.7 L414.6,702.4 L419.7,703.0 L425.0,703.7 L430.5,704.4 L436.2,705.1 L442.0,705.7 L447.9,706.4 L453.9,707.1 L459.9,707.8 L466.0,708.4 L472.0,709.1 L478.0,709.8 L483.9,710.5 L489.7,711.1 L495.4,711.8 L500.9,712.5 L506.2,713.2 L511.3,713.8 L516.2,714.5 L520.9,715.2 L525.2,715.9 L529.3,716.5 L533.0,717.2 L536.3,717.9 L539.4,718.6 L542.0,719.2 L544.3,719.9 L546.1,720.6 L547.6,721.3 L548.7,721.9 L549.3,722.6 L549.5,723.3 L549.3,724.0 L548.8,724.7 L547.9,725.3 L546.6,726.0 L545.0,726.7 L543.0,727.4 L540.7,728.0 L538.1,728.7 L535.1,729.4 L531.9,730.1 L528.3,730.7 L524.5,731.4 L520.4,732.1 L516.0,732.8 L511.4,733.4 L506.6,734.1 L501.6,734.8 L496.3,735.5 L491.0,736.2 L485.5,736.8 L479.8,737.5 L474.1,738.2 L468.3,738.9 L462.4,739.5 L456.6,740.2 L450.6,740.9 L444.8,741.6 L438.9,742.2 L433.1,742.9 L427.4,743.6 L421.7,744.3 L416.2,744.9 L410.9,745.6 L405.6,746.3 L400.6,747.0 L395.8,747.7 L391.2,748.3 L386.8,749.0 L382.7,749.7 L378.9,750.4 L375.3,751.0 L372.1,751.7 L369.1,752.4 L366.5,753.1 L364.2,753.7 L362.2,754.4 L360.6,755.1 L359.3,755.8 L358.4,756.4 L357.9,757.1 L357.7,757.8 L357.8,758.5 L358.0,759.1 L358.3,759.8 L358.8,760.5 L359.4,761.1 L360.2,761.8 L361.1,762.5 L362.1,763.2 L363.3,763.8 L364.6,764.5 L366.0,765.2 L367.6,765.8 L369.3,766.5 L371.1,767.2 L373.0,767.8 L375.0,768.5 L377.1,769.2 L379.4,769.8 L381.7,770.5 L384.2,771.2 L386.7,771.9 L389.3,772.5 L392.0,773.2 L394.8,773.9 L397.7,774.5 L400.6,775.2 L403.6,775.9 L406.7,776.5 L409.8,777.2 L412.9,777.9 L416.1,778.5 L419.4,779.2 L422.7,779.9 L426.0,780.6 L429.3,781.2 L432.6,781.9 L436.0,782.6 L439.3,783.2 L442.7,783.9 L446.0,784.6 L449.3,785.2 L452.6,785.9 L455.9,786.6 L459.2,787.3 L462.4,787.9 L465.5,788.6 L468.6,789.3 L471.7,789.9 L474.7,790.6 L477.6,791.3 L480.5,791.9 L483.3,792.6 L486.0,793.3 L488.6,793.9 L491.1,794.6 L493.6,795.3 L495.9,796.0 L498.2,796.6 L500.3,797.3 L502.3,798.0 L504.2,798.6 L506.0,799.3 L507.7,800.0 L509.3,800.6 L510.7,801.3 L512.0,802.0 L513.2,802.6 L514.2,803.3 L515.1,804.0 L515.9,804.7 L516.5,805.3 L517.0,806.0 L517.3,806.7 L517.5,807.3 L517.6,808.0 L517.4,808.7 L516.9,809.3 L516.0,810.0 L514.8,810.7 L513.2,811.4 L511.2,812.0 L509.0,812.7 L506.4,813.4 L503.6,814.0 L500.4,814.7 L497.0,815.4 L493.3,816.0 L489.4,816.7 L485.3,817.4 L481.0,818.1 L476.5,818.7 L471.8,819.4 L467.1,820.1 L462.2,820.7 L457.3,821.4 L452.3,822.1 L447.2,822.8 L442.2,823.4 L437.2,824.1 L432.3,824.8 L427.4,825.4 L422.7,826.1 L418.0,826.8 L413.5,827.4 L409.2,828.1 L405.1,828.8 L401.2,829.5 L397.5,830.1 L394.1,830.8 L390.9,831.5 L388.1,832.1 L385.5,832.8 L383.3,833.5 L381.3,834.1 L379.7,834.8 L378.5,835.5 L377.6,836.2 L377.1,836.8 L376.9,837.5 L377.1,838.2 L377.7,838.9 L378.6,839.5 L379.9,840.2 L381.6,840.9 L383.7,841.6 L386.1,842.2 L388.8,842.9 L391.8,843.6 L395.1,844.3 L398.8,845.0 L402.6,845.6 L406.7,846.3 L411.0,847.0 L415.5,847.7 L420.1,848.3 L424.9,849.0 L429.8,849.7 L434.7,850.4 L439.7,851.1 L444.7,851.7 L449.7,852.4 L454.6,853.1 L459.5,853.8 L464.3,854.5 L468.9,855.1 L473.4,855.8 L477.7,856.5 L481.8,857.2 L485.6,857.8 L489.3,858.5 L492.6,859.2 L495.6,859.9 L498.3,860.6 L500.7,861.2 L502.8,861.9 L504.5,862.6 L505.8,863.3 L506.7,863.9 L507.3,864.6 L507.5,865.3 L507.4,866.0 L506.9,866.6 L506.2,867.3 L505.1,868.0 L503.8,868.7 L502.2,869.3 L500.3,870.0 L498.2,870.7 L495.8,871.4 L493.2,872.0 L490.3,872.7 L487.2,873.4 L483.9,874.1 L480.3,874.8 L476.7,875.4 L472.8,876.1 L468.8,876.8 L464.7,877.5 L460.4,878.1 L456.1,878.8 L451.6,879.5 L447.2,880.1 L442.6,880.8 L438.1,881.5 L433.6,882.2 L429.0,882.9 L424.6,883.5 L420.1,884.2 L415.8,884.9 L411.5,885.5 L407.4,886.2 L403.4,886.9 L399.5,887.6 L395.9,888.2 L392.3,888.9 L389.0,889.6 L385.9,890.3 L383.0,891.0 L380.4,891.6 L378.0,892.3 L375.9,893.0 L374.0,893.7 L372.4,894.3 L371.1,895.0 L370.0,895.7 L369.3,896.4 L368.8,897.0 L368.7,897.7 L368.9,898.4 L369.3,899.0 L370.0,899.7 L371.1,900.4 L372.4,901.0 L374.1,901.7 L376.0,902.4 L378.1,903.0 L380.6,903.7 L383.3,904.4 L386.2,905.0 L389.4,905.7 L392.8,906.4 L396.4,907.0 L400.3,907.7 L404.3,908.4 L408.4,909.0 L412.8,909.7 L417.3,910.4 L421.8,911.0 L426.6,911.7 L431.3,912.4 L436.2,913.0 L441.1,913.7 L446.1,914.4 L451.0,915.0 L456.0,915.7 L461.0,916.4 L465.9,917.1 L470.8,917.7 L475.5,918.4 L480.3,919.1 L484.8,919.7 L489.3,920.4 L493.7,921.1 L497.8,921.7 L501.8,922.4 L505.7,923.1 L509.3,923.7 L512.7,924.4 L515.9,925.1 L518.8,925.7 L521.5,926.4 L524.0,927.1 L526.1,927.7 L528.0,928.4 L529.7,929.1 L531.0,929.7 L532.1,930.4 L532.8,931.1 L533.2,931.7 L533.4,932.4 L533.3,933.1 L533.0,933.7 L532.5,934.4 L531.9,935.1 L531.0,935.8 L529.9,936.4 L528.7,937.1 L527.3,937.8 L525.7,938.4 L523.9,939.1 L522.0,939.8 L519.9,940.5 L517.6,941.1 L515.1,941.8 L512.6,942.5 L509.8,943.1 L506.9,943.8 L503.9,944.5 L500.8,945.2 L497.5,945.8 L494.1,946.5 L490.7,947.2 L487.1,947.8 L483.4,948.5 L479.6,949.2 L475.8,949.9 L471.9,950.5 L468.0,951.2 L463.9,951.9 L459.9,952.5 L455.8,953.2 L451.7,953.9 L447.6,954.6 L443.5,955.2 L439.4,955.9 L435.3,956.6 L431.2,957.3 L427.2,957.9 L423.1,958.6 L419.2,959.3 L415.3,959.9 L411.5,960.6 L407.7,961.3 L404.0,962.0 L400.4,962.6 L397.0,963.3 L393.6,964.0 L390.3,964.6 L387.2,965.3 L384.2,966.0 L381.3,966.7 L378.5,967.3 L376.0,968.0 L373.5,968.7 L371.2,969.3 L369.1,970.0 L367.2,970.7 L365.4,971.4 L363.8,972.0 L362.4,972.7 L361.2,973.4 L360.1,974.0 L359.2,974.7 L358.6,975.4 L358.1,976.1 L357.8,976.7 L357.7,977.4 L357.9,978.1 L358.7,978.7 L359.9,979.4 L361.6,980.1 L363.7,980.7 L366.4,981.4 L369.4,982.1 L372.9,982.7 L376.9,983.4 L381.2,984.1 L385.9,984.7 L390.9,985.4 L396.3,986.1 L402.0,986.7 L408.0,987.4 L414.2,988.1 L420.7,988.7 L427.3,989.4 L434.1,990.1 L441.1,990.7 L448.1,991.4 L455.2,992.1 L462.3,992.8 L469.5,993.4 L476.6,994.1 L483.6,994.8 L490.6,995.4 L497.4,996.1 L504.0,996.8 L510.5,997.4 L516.7,998.1 L522.7,998.8 L528.4,999.4 L533.8,1000.1 L538.8,1000.8 L543.5,1001.4 L547.8,1002.1 L551.8,1002.8 L555.3,1003.4 L558.3,1004.1 L561.0,1004.8 L563.1,1005.4 L564.8,1006.1 L566.0,1006.8 L566.8,1007.4 L567.0,1008.1 L566.8,1008.8 L566.0,1009.4 L564.8,1010.1 L563.1,1010.8 L560.9,1011.5 L558.3,1012.1 L555.2,1012.8 L551.7,1013.5 L547.7,1014.1 L543.3,1014.8 L538.6,1015.5 L533.5,1016.1 L528.1,1016.8 L522.3,1017.5 L516.2,1018.2 L509.9,1018.8 L503.4,1019.5 L496.6,1020.2 L489.7,1020.8 L482.6,1021.5 L475.4,1022.2 L468.1,1022.8 L460.8,1023.5 L453.4,1024.2 L446.1,1024.9 L438.8,1025.5 L431.6,1026.2 L424.5,1026.9 L417.6,1027.5 L410.8,1028.2 L404.3,1028.9 L398.0,1029.5 L391.9,1030.2 L386.1,1030.9 L380.7,1031.6 L375.6,1032.2 L370.9,1032.9 L366.5,1033.6 L362.5,1034.2 L359.0,1034.9 L355.9,1035.6 L353.3,1036.2 L351.1,1036.9 L349.4,1037.6 L348.2,1038.3 L347.4,1038.9 L347.2,1039.6 L347.4,1040.3 L348.0,1040.9 L348.9,1041.6 L350.3,1042.3 L352.0,1042.9 L354.1,1043.6 L356.5,1044.3 L359.3,1045.0 L362.4,1045.6 L365.9,1046.3 L369.7,1047.0 L373.7,1047.6 L378.1,1048.3 L382.6,1049.0 L387.5,1049.6 L392.5,1050.3 L397.8,1051.0 L403.2,1051.6 L408.8,1052.3 L414.6,1053.0 L420.4,1053.7 L426.3,1054.3 L432.3,1055.0 L438.3,1055.7 L444.4,1056.3 L450.4,1057.0 L456.4,1057.7 L462.3,1058.3 L468.1,1059.0 L473.9,1059.7 L479.5,1060.4 L484.9,1061.0 L490.2,1061.7 L495.2,1062.4 L500.1,1063.0 L504.6,1063.7 L509.0,1064.4 L513.0,1065.0 L516.8,1065.7 L520.3,1066.4 L523.4,1067.0 L526.2,1067.7 L528.6,1068.4 L530.7,1069.1 L532.4,1069.7 L533.8,1070.4 L534.7,1071.1 L535.3,1071.7 L535.5,1072.4 L535.4,1073.1 L535.1,1073.7 L534.7,1074.4 L534.1,1075.1 L533.3,1075.7 L532.3,1076.4 L531.2,1077.1 L529.9,1077.7 L528.4,1078.4 L526.8,1079.1 L525.0,1079.8 L523.1,1080.4 L521.0,1081.1 L518.7,1081.8 L516.4,1082.4 L513.8,1083.1 L511.2,1083.8 L508.4,1084.4 L505.6,1085.1 L502.6,1085.8 L499.5,1086.4 L496.3,1087.1 L493.0,1087.8 L489.7,1088.4 L486.2,1089.1 L482.7,1089.8 L479.2,1090.4 L475.6,1091.1 L471.9,1091.8 L468.3,1092.4 L464.6,1093.1 L460.8,1093.8 L457.1,1094.5 L453.4,1095.1 L449.6,1095.8 L445.9,1096.5 L442.3,1097.1 L438.6,1097.8 L435.0,1098.5 L431.5,1099.1 L428.0,1099.8 L424.5,1100.5 L421.2,1101.1 L417.9,1101.8 L414.7,1102.5 L411.6,1103.1 L408.6,1103.8 L405.8,1104.5 L403.0,1105.1 L400.4,1105.8 L397.8,1106.5 L395.5,1107.1 L393.2,1107.8 L391.1,1108.5 L389.2,1109.2 L387.4,1109.8 L385.8,1110.5 L384.3,1111.2 L383.0,1111.8 L381.9,1112.5 L380.9,1113.2 L380.1,1113.8 L379.5,1114.5 L379.1,1115.2 L378.8,1115.8 L378.7,1116.5 L378.8,1117.2 L379.2,1117.8 L379.8,1118.5 L380.7,1119.2 L381.9,1119.9 L383.2,1120.5 L384.9,1121.2 L386.7,1121.9 L388.8,1122.6 L391.1,1123.2 L393.6,1123.9 L396.3,1124.6 L399.2,1125.3 L402.3,1125.9 L405.6,1126.6 L409.0,1127.3 L412.6,1128.0 L416.3,1128.6 L420.1,1129.3 L424.1,1130.0 L428.1,1130.6 L432.2,1131.3 L436.4,1132.0 L440.7,1132.7 L444.9,1133.3 L449.2,1134.0 L453.6,1134.7 L457.9,1135.4 L462.1,1136.0 L466.4,1136.7 L470.6,1137.4 L474.7,1138.1 L478.7,1138.7 L482.7,1139.4 L486.5,1140.1 L490.2,1140.7 L493.8,1141.4 L497.2,1142.1 L500.5,1142.8 L503.6,1143.4 L506.5,1144.1 L509.2,1144.8 L511.7,1145.5 L514.0,1146.1 L516.1,1146.8 L517.9,1147.5 L519.6,1148.2 L520.9,1148.8 L522.1,1149.5 L523.0,1150.2 L523.6,1150.9 L524.0,1151.5 L524.1,1152.2 L523.9,1152.9 L523.5,1153.5 L522.7,1154.2 L521.6,1154.9 L520.2,1155.6 L518.5,1156.2 L516.6,1156.9 L514.3,1157.6 L511.8,1158.2 L509.0,1158.9 L506.0,1159.6 L502.7,1160.2 L499.3,1160.9 L495.6,1161.6 L491.7,1162.3 L487.7,1162.9 L483.5,1163.6 L479.2,1164.3 L474.8,1164.9 L470.3,1165.6 L465.7,1166.3 L461.1,1166.9 L456.4,1167.6 L451.7,1168.3 L447.0,1169.0 L442.4,1169.6 L437.8,1170.3 L433.3,1171.0 L428.9,1171.6 L424.6,1172.3 L420.4,1173.0 L416.4,1173.6 L412.5,1174.3 L408.8,1175.0 L405.4,1175.7 L402.1,1176.3 L399.1,1177.0 L396.3,1177.7 L393.8,1178.3 L391.5,1179.0 L389.6,1179.7 L387.9,1180.3 L386.5,1181.0 L385.4,1181.7 L384.6,1182.4 L384.2,1183.0 L384.0,1183.7 L384.2,1184.4 L384.9,1185.0 L386.0,1185.7 L387.5,1186.4 L389.4,1187.1 L391.7,1187.7 L394.5,1188.4 L397.6,1189.1 L401.1,1189.8 L405.0,1190.4 L409.2,1191.1 L413.8,1191.8 L418.6,1192.4 L423.7,1193.1 L429.1,1193.8 L434.7,1194.5 L440.5,1195.1 L446.6,1195.8 L452.7,1196.5 L459.0,1197.1 L465.4,1197.8 L471.9,1198.5 L478.4,1199.2 L484.9,1199.8 L491.4,1200.5 L497.9,1201.2 L504.3,1201.9 L510.6,1202.5 L516.7,1203.2 L522.8,1203.9 L528.6,1204.5 L534.2,1205.2 L539.6,1205.9 L544.7,1206.6 L549.5,1207.2 L554.1,1207.9 L558.3,1208.6 L562.2,1209.2 L565.7,1209.9 L568.8,1210.6 L571.6,1211.3 L573.9,1211.9 L575.8,1212.6 L577.3,1213.3 L578.4,1214.0 L579.1,1214.6 L579.3,1215.3 L579.1,1216.0 L578.7,1216.6 L577.9,1217.3 L576.9,1218.0 L575.5,1218.6 L574.0,1219.3 L572.2,1220.0 L570.2,1220.6 L568.0,1221.3 L565.7,1222.0 L563.3,1222.6 L560.9,1223.3 L558.4,1224.0 L556.0,1224.7 L553.6,1225.3 L551.3,1226.0 L549.1,1226.7 L547.1,1227.3 L545.3,1228.0 L543.8,1228.7 L542.4,1229.3 L541.4,1230.0 L540.6,1230.7 L540.2,1231.3 L540.0,1232.0" fill="none" stroke="#000" stroke-width="1.5" clip-path="url(#c2)"/>
<line x1="237.50" y1="618.00" x2="237.50" y2="627.30" stroke="#000" stroke-width="1.8" stroke-linecap="butt"/>
<line x1="291.50" y1="618.00" x2="291.50" y2="636.00" stroke="#000" stroke-width="1.8" stroke-linecap="butt"/>
<line x1="345.50" y1="618.00" x2="345.50" y2="627.30" stroke="#000" stroke-width="1.8" stroke-linecap="butt"/>
<line x1="399.50" y1="618.00" x2="399.50" y2="636.00" stroke="#000" stroke-width="1.8" stroke-linecap="butt"/>
<line x1="453.50" y1="618.00" x2="453.50" y2="627.30" stroke="#000" stroke-width="1.8" stroke-linecap="butt"/>
<line x1="507.50" y1="618.00" x2="507.50" y2="636.00" stroke="#000" stroke-width="1.8" stroke-linecap="butt"/>
<line x1="561.50" y1="618.00" x2="561.50" y2="627.30" stroke="#000" stroke-width="1.8" stroke-linecap="butt"/>
<line x1="615.50" y1="618.00" x2="615.50" y2="636.00" stroke="#000" stroke-width="1.8" stroke-linecap="butt"/>
<line x1="669.50" y1="618.00" x2="669.50" y2="627.30" stroke="#000" stroke-width="1.8" stroke-linecap="butt"/>
<line x1="182.20" y1="618.00" x2="724.90" y2="618.00" stroke="#000" stroke-width="2.6" stroke-linecap="butt"/>
<line x1="183.50" y1="1219.30" x2="183.50" y2="1238.30" stroke="#000" stroke-width="1.8" stroke-linecap="butt"/>
<text x="183.50" y="1268.00" font-size="29.2" text-anchor="middle" fill="#000">–pi</text>
<text x="183.50" y="1303.60" font-size="29.2" text-anchor="middle" fill="#000">–50 kyr</text>
<line x1="318.50" y1="1219.30" x2="318.50" y2="1238.30" stroke="#000" stroke-width="1.8" stroke-linecap="butt"/>
<text x="318.50" y="1268.00" font-size="29.2" text-anchor="middle" fill="#000">–pi/2</text>
<text x="318.50" y="1303.60" font-size="29.2" text-anchor="middle" fill="#000">–25 kyr</text>
<line x1="453.50" y1="1219.30" x2="453.50" y2="1238.30" stroke="#000" stroke-width="1.8" stroke-linecap="butt"/>
<text x="453.50" y="1268.00" font-size="29.2" text-anchor="middle" fill="#000">0</text>
<line x1="588.50" y1="1219.30" x2="588.50" y2="1238.30" stroke="#000" stroke-width="1.8" stroke-linecap="butt"/>
<text x="588.50" y="1268.00" font-size="29.2" text-anchor="middle" fill="#000">pi/2</text>
<text x="588.50" y="1303.60" font-size="29.2" text-anchor="middle" fill="#000">25 kyr</text>
<line x1="723.50" y1="1219.30" x2="723.50" y2="1238.30" stroke="#000" stroke-width="1.8" stroke-linecap="butt"/>
<text x="723.50" y="1268.00" font-size="29.2" text-anchor="middle" fill="#000">pi</text>
<text x="723.50" y="1303.60" font-size="29.2" text-anchor="middle" fill="#000">50 kyr</text>
<text x="79.00" y="748.26" font-size="29.2" text-anchor="end" fill="#000">10</text>
<text x="79.00" y="898.59" font-size="29.2" text-anchor="end" fill="#000">15</text>
<text x="79.00" y="1048.91" font-size="29.2" text-anchor="end" fill="#000">20</text>
<text x="79.00" y="1199.23" font-size="29.2" text-anchor="end" fill="#000">25</text>
<text x="21.80" y="909.00" font-size="29.2" text-anchor="middle" fill="#000" transform="rotate(-90 21.80 909.00)">Age (Ma)</text>
<text x="157.50" y="878.00" font-size="29.2" text-anchor="middle" fill="#000" transform="rotate(-90 157.50 878.00)">Miocene</text>
<text x="188.20" y="602.40" font-size="29.2" text-anchor="middle" fill="#000">0.04</text>
<text x="404.40" y="602.40" font-size="29.2" text-anchor="middle" fill="#000">0.03</text>
<text x="620.20" y="602.40" font-size="29.2" text-anchor="middle" fill="#000">0.02</text>
<text x="265.3" y="561" font-size="29.2" fill="#000">~2.4–Myr eccentricity (g<tspan font-size="20" dy="6">4</tspan><tspan dy="-6">–g</tspan><tspan font-size="20" dy="6">3</tspan><tspan dy="-6">)</tspan></text>
<polygon points="223.5,618.2 259.9,599.9 242.2,618.2 259.9,636.5" fill="#f00" stroke="#f00" stroke-width="14" stroke-linejoin="round"/>
<polygon points="644.7,618.2 681.1,599.9 663.4,618.2 681.1,636.5" fill="#f00" stroke="#f00" stroke-width="14" stroke-linejoin="round"/>
<text x="86.10" y="574.20" font-size="29.2" text-anchor="start" fill="#f00" transform="rotate(-45 86.10 574.20)">Ecc.</text>
<text x="108.50" y="601.20" font-size="29.2" text-anchor="start" fill="#f00" transform="rotate(-45 108.50 601.20)">max.</text>
<text x="698.20" y="574.10" font-size="29.2" text-anchor="start" fill="#f00" transform="rotate(-45 698.20 574.10)">Ecc.</text>
<text x="723.50" y="598.20" font-size="29.2" text-anchor="start" fill="#f00" transform="rotate(-45 723.50 598.20)">min.</text>
<g transform="translate(304 977.5) rotate(-90)"><text x="0" y="0" font-size="25" xml:space="preserve"><tspan class="d">δ</tspan><tspan font-size="17.5" dy="-12">13</tspan><tspan dy="12">C</tspan><tspan dx="12">leads </tspan><tspan class="d">δ</tspan><tspan font-size="17.5" dy="-12">18</tspan><tspan dy="12" dx="1">O</tspan></text></g>
<g transform="translate(334 978.5) rotate(-90)"><text x="0" y="0" font-size="25" xml:space="preserve">during <tspan fill="#f00">ecc. max.</tspan></text></g>
<rect x="184.00" y="1451.40" width="539.60" height="276.60" fill="url(#g2)" stroke="none" stroke-width="0"/>
<rect x="112.60" y="1450.60" width="71.40" height="239.90" fill="#FDC07A" stroke="none" stroke-width="0"/>
<rect x="112.60" y="1690.50" width="71.40" height="38.30" fill="#FDB46C" stroke="none" stroke-width="0"/>
<line x1="112.60" y1="1690.50" x2="184.00" y2="1690.50" stroke="#000" stroke-width="1.6" stroke-linecap="butt"/>
<line x1="112.60" y1="1728.00" x2="184.00" y2="1728.00" stroke="#000" stroke-width="1.8" stroke-linecap="butt"/>
<line x1="112.60" y1="1450.40" x2="112.60" y2="1729.00" stroke="#000" stroke-width="1.8" stroke-linecap="butt"/>
<line x1="102.60" y1="1452.40" x2="112.60" y2="1452.40" stroke="#000" stroke-width="1.8" stroke-linecap="butt"/>
<line x1="723.60" y1="1452.40" x2="732.30" y2="1452.40" stroke="#000" stroke-width="1.8" stroke-linecap="butt"/>
<line x1="102.60" y1="1483.06" x2="112.60" y2="1483.06" stroke="#000" stroke-width="1.8" stroke-linecap="butt"/>
<line x1="723.60" y1="1483.06" x2="732.30" y2="1483.06" stroke="#000" stroke-width="1.8" stroke-linecap="butt"/>
<line x1="102.60" y1="1513.71" x2="112.60" y2="1513.71" stroke="#000" stroke-width="1.8" stroke-linecap="butt"/>
<line x1="723.60" y1="1513.71" x2="732.30" y2="1513.71" stroke="#000" stroke-width="1.8" stroke-linecap="butt"/>
<line x1="102.60" y1="1544.37" x2="112.60" y2="1544.37" stroke="#000" stroke-width="1.8" stroke-linecap="butt"/>
<line x1="723.60" y1="1544.37" x2="732.30" y2="1544.37" stroke="#000" stroke-width="1.8" stroke-linecap="butt"/>
<line x1="93.60" y1="1575.02" x2="112.60" y2="1575.02" stroke="#000" stroke-width="1.8" stroke-linecap="butt"/>
<line x1="723.60" y1="1575.02" x2="742.60" y2="1575.02" stroke="#000" stroke-width="1.8" stroke-linecap="butt"/>
<line x1="102.60" y1="1605.68" x2="112.60" y2="1605.68" stroke="#000" stroke-width="1.8" stroke-linecap="butt"/>
<line x1="723.60" y1="1605.68" x2="732.30" y2="1605.68" stroke="#000" stroke-width="1.8" stroke-linecap="butt"/>
<line x1="102.60" y1="1636.33" x2="112.60" y2="1636.33" stroke="#000" stroke-width="1.8" stroke-linecap="butt"/>
<line x1="723.60" y1="1636.33" x2="732.30" y2="1636.33" stroke="#000" stroke-width="1.8" stroke-linecap="butt"/>
<line x1="102.60" y1="1666.99" x2="112.60" y2="1666.99" stroke="#000" stroke-width="1.8" stroke-linecap="butt"/>
<line x1="723.60" y1="1666.99" x2="732.30" y2="1666.99" stroke="#000" stroke-width="1.8" stroke-linecap="butt"/>
<line x1="102.60" y1="1697.64" x2="112.60" y2="1697.64" stroke="#000" stroke-width="1.8" stroke-linecap="butt"/>
<line x1="723.60" y1="1697.64" x2="732.30" y2="1697.64" stroke="#000" stroke-width="1.8" stroke-linecap="butt"/>
<line x1="93.60" y1="1728.30" x2="112.60" y2="1728.30" stroke="#000" stroke-width="1.8" stroke-linecap="butt"/>
<line x1="723.60" y1="1728.30" x2="742.60" y2="1728.30" stroke="#000" stroke-width="1.8" stroke-linecap="butt"/>
<rect x="184.00" y="1451.40" width="539.60" height="276.60" fill="none" stroke="#000" stroke-width="2.6"/>
<circle cx="441.6" cy="1452.6" r="7.9" fill="#6A3D9A"/>
<circle cx="486.8" cy="1455.4" r="7.9" fill="#6A3D9A"/>
<circle cx="468.4" cy="1464.5" r="10.2" fill="#6A3D9A"/>
<circle cx="486.5" cy="1471.5" r="7.9" fill="#6A3D9A"/>
<circle cx="531.1" cy="1476.8" r="10.5" fill="#6A3D9A"/>
<circle cx="506.1" cy="1489.9" r="7.4" fill="#6A3D9A"/>
<circle cx="501.3" cy="1482.9" r="10.5" fill="#6A3D9A"/>
<circle cx="487.7" cy="1495.5" r="7.9" fill="#6A3D9A"/>
<circle cx="443.9" cy="1500.4" r="7.4" fill="#6A3D9A"/>
<circle cx="429.5" cy="1508.0" r="7.9" fill="#6A3D9A"/>
<circle cx="424.6" cy="1513.9" r="7.9" fill="#6A3D9A"/>
<circle cx="429.5" cy="1525.8" r="7.4" fill="#6A3D9A"/>
<circle cx="461.4" cy="1532.3" r="7.9" fill="#6A3D9A"/>
<circle cx="409.7" cy="1538.1" r="7.9" fill="#6A3D9A"/>
<circle cx="404.5" cy="1544.6" r="7.9" fill="#6A3D9A"/>
<circle cx="472.8" cy="1550.4" r="7.9" fill="#6A3D9A"/>
<circle cx="464.6" cy="1556.5" r="7.9" fill="#6A3D9A"/>
<circle cx="484.2" cy="1562.6" r="10.5" fill="#6A3D9A"/>
<circle cx="473.3" cy="1568.8" r="10.5" fill="#6A3D9A"/>
<circle cx="449.1" cy="1574.9" r="10.5" fill="#6A3D9A"/>
<circle cx="431.6" cy="1581.0" r="10.5" fill="#6A3D9A"/>
<circle cx="415.3" cy="1587.2" r="10.2" fill="#6A3D9A"/>
<circle cx="422.0" cy="1599.3" r="7.9" fill="#6A3D9A"/>
<circle cx="415.3" cy="1593.1" r="10.5" fill="#6A3D9A"/>
<circle cx="445.3" cy="1605.9" r="7.9" fill="#6A3D9A"/>
<circle cx="506.6" cy="1612.1" r="7.9" fill="#6A3D9A"/>
<circle cx="536.7" cy="1617.7" r="10.2" fill="#6A3D9A"/>
<circle cx="544.6" cy="1623.8" r="10.5" fill="#6A3D9A"/>
<circle cx="513.1" cy="1636.1" r="7.9" fill="#6A3D9A"/>
<circle cx="526.2" cy="1630.5" r="10.5" fill="#6A3D9A"/>
<circle cx="490.8" cy="1642.5" r="10.5" fill="#6A3D9A"/>
<circle cx="470.2" cy="1648.7" r="10.5" fill="#6A3D9A"/>
<circle cx="460.0" cy="1654.5" r="10.5" fill="#6A3D9A"/>
<circle cx="435.6" cy="1660.9" r="10.2" fill="#6A3D9A"/>
<circle cx="458.8" cy="1679.0" r="7.9" fill="#6A3D9A"/>
<circle cx="447.0" cy="1667.1" r="10.5" fill="#6A3D9A"/>
<circle cx="449.1" cy="1689.5" r="10.2" fill="#6A3D9A"/>
<circle cx="456.5" cy="1697.4" r="10.5" fill="#6A3D9A"/>
<circle cx="444.8" cy="1703.5" r="10.2" fill="#6A3D9A"/>
<circle cx="436.9" cy="1710.0" r="10.5" fill="#6A3D9A"/>
<circle cx="493.8" cy="1456.1" r="8.4" fill="#1F78B4"/>
<circle cx="483.8" cy="1462.8" r="10.5" fill="#1F78B4"/>
<circle cx="460.5" cy="1468.9" r="10.5" fill="#1F78B4"/>
<circle cx="450.0" cy="1474.2" r="10.2" fill="#1F78B4"/>
<circle cx="447.4" cy="1479.4" r="10.5" fill="#1F78B4"/>
<circle cx="450.9" cy="1485.6" r="10.2" fill="#1F78B4"/>
<circle cx="455.3" cy="1492.6" r="10.5" fill="#1F78B4"/>
<circle cx="453.5" cy="1498.7" r="10.5" fill="#1F78B4"/>
<circle cx="452.6" cy="1504.8" r="10.5" fill="#1F78B4"/>
<circle cx="458.8" cy="1511.0" r="10.5" fill="#1F78B4"/>
<circle cx="451.8" cy="1517.1" r="10.5" fill="#1F78B4"/>
<circle cx="411.5" cy="1523.7" r="7.9" fill="#1F78B4"/>
<circle cx="430.7" cy="1530.2" r="7.9" fill="#1F78B4"/>
<circle cx="394.5" cy="1536.0" r="7.9" fill="#1F78B4"/>
<circle cx="512.2" cy="1541.6" r="10.2" fill="#1F78B4"/>
<circle cx="523.6" cy="1547.7" r="10.2" fill="#1F78B4"/>
<circle cx="531.1" cy="1554.2" r="10.5" fill="#1F78B4"/>
<path d="M315.0,1440.0 L315.1,1440.7 L315.3,1441.3 L315.8,1442.0 L316.3,1442.7 L317.1,1443.4 L318.0,1444.0 L319.1,1444.7 L320.3,1445.4 L321.7,1446.1 L323.3,1446.7 L325.0,1447.4 L326.8,1448.1 L328.8,1448.8 L331.0,1449.4 L333.3,1450.1 L335.7,1450.8 L338.3,1451.4 L341.0,1452.1 L343.9,1452.8 L346.8,1453.5 L349.9,1454.1 L353.1,1454.8 L356.5,1455.5 L359.9,1456.2 L363.4,1456.8 L367.0,1457.5 L370.7,1458.2 L374.5,1458.8 L378.4,1459.5 L382.3,1460.2 L386.4,1460.9 L390.4,1461.5 L394.6,1462.2 L398.8,1462.9 L403.0,1463.6 L407.3,1464.2 L411.6,1464.9 L415.9,1465.6 L420.2,1466.3 L424.6,1466.9 L428.9,1467.6 L433.3,1468.3 L437.7,1468.9 L442.0,1469.6 L446.3,1470.3 L450.6,1471.0 L454.9,1471.6 L459.1,1472.3 L463.3,1473.0 L467.5,1473.7 L471.5,1474.3 L475.6,1475.0 L479.5,1475.7 L483.4,1476.4 L487.2,1477.0 L490.9,1477.7 L494.5,1478.4 L498.0,1479.0 L501.4,1479.7 L504.8,1480.4 L508.0,1481.1 L511.1,1481.7 L514.0,1482.4 L516.9,1483.1 L519.6,1483.8 L522.2,1484.4 L524.6,1485.1 L526.9,1485.8 L529.1,1486.4 L531.1,1487.1 L532.9,1487.8 L534.6,1488.5 L536.2,1489.1 L537.6,1489.8 L538.8,1490.5 L539.9,1491.2 L540.8,1491.8 L541.6,1492.5 L542.1,1493.2 L542.6,1493.9 L542.8,1494.5 L542.9,1495.2 L542.7,1495.9 L542.2,1496.6 L541.3,1497.2 L540.0,1497.9 L538.4,1498.6 L536.4,1499.3 L534.1,1499.9 L531.5,1500.6 L528.6,1501.3 L525.3,1502.0 L521.7,1502.6 L517.9,1503.3 L513.8,1504.0 L509.4,1504.7 L504.9,1505.3 L500.0,1506.0 L495.0,1506.7 L489.8,1507.4 L484.5,1508.1 L479.0,1508.7 L473.4,1509.4 L467.6,1510.1 L461.8,1510.8 L456.0,1511.4 L450.1,1512.1 L444.2,1512.8 L438.3,1513.5 L432.5,1514.1 L426.7,1514.8 L420.9,1515.5 L415.3,1516.2 L409.8,1516.8 L404.5,1517.5 L399.3,1518.2 L394.3,1518.9 L389.4,1519.6 L384.9,1520.2 L380.5,1520.9 L376.4,1521.6 L372.6,1522.3 L369.0,1522.9 L365.7,1523.6 L362.8,1524.3 L360.2,1525.0 L357.9,1525.6 L355.9,1526.3 L354.3,1527.0 L353.0,1527.7 L352.1,1528.3 L351.6,1529.0 L351.4,1529.7 L351.6,1530.4 L352.1,1531.0 L353.0,1531.7 L354.2,1532.4 L355.8,1533.1 L357.7,1533.7 L360.0,1534.4 L362.5,1535.1 L365.4,1535.7 L368.6,1536.4 L372.0,1537.1 L375.8,1537.8 L379.8,1538.4 L384.0,1539.1 L388.4,1539.8 L393.1,1540.4 L397.9,1541.1 L402.9,1541.8 L408.1,1542.5 L413.3,1543.1 L418.7,1543.8 L424.1,1544.5 L429.6,1545.1 L435.2,1545.8 L440.7,1546.5 L446.3,1547.2 L451.8,1547.8 L457.2,1548.5 L462.6,1549.2 L467.8,1549.8 L473.0,1550.5 L478.0,1551.2 L482.8,1551.9 L487.5,1552.5 L491.9,1553.2 L496.1,1553.9 L500.1,1554.5 L503.9,1555.2 L507.3,1555.9 L510.5,1556.6 L513.4,1557.2 L515.9,1557.9 L518.2,1558.6 L520.1,1559.2 L521.7,1559.9 L522.9,1560.6 L523.8,1561.3 L524.3,1561.9 L524.5,1562.6 L524.4,1563.3 L523.9,1563.9 L523.2,1564.6 L522.1,1565.3 L520.8,1566.0 L519.2,1566.6 L517.3,1567.3 L515.2,1568.0 L512.8,1568.7 L510.1,1569.3 L507.2,1570.0 L504.1,1570.7 L500.8,1571.4 L497.3,1572.0 L493.5,1572.7 L489.7,1573.4 L485.7,1574.1 L481.5,1574.8 L477.2,1575.4 L472.9,1576.1 L468.4,1576.8 L463.9,1577.5 L459.4,1578.1 L454.9,1578.8 L450.3,1579.5 L445.8,1580.1 L441.3,1580.8 L436.8,1581.5 L432.5,1582.2 L428.2,1582.8 L424.0,1583.5 L420.0,1584.2 L416.2,1584.9 L412.4,1585.5 L408.9,1586.2 L405.6,1586.9 L402.5,1587.6 L399.6,1588.2 L396.9,1588.9 L394.5,1589.6 L392.4,1590.3 L390.5,1591.0 L388.9,1591.6 L387.6,1592.3 L386.5,1593.0 L385.8,1593.7 L385.3,1594.3 L385.2,1595.0 L385.3,1595.7 L385.6,1596.3 L386.0,1597.0 L386.6,1597.7 L387.4,1598.3 L388.4,1599.0 L389.5,1599.7 L390.9,1600.3 L392.3,1601.0 L394.0,1601.7 L395.8,1602.3 L397.8,1603.0 L399.9,1603.7 L402.1,1604.3 L404.5,1605.0 L407.1,1605.7 L409.8,1606.3 L412.6,1607.0 L415.5,1607.7 L418.5,1608.4 L421.7,1609.0 L424.9,1609.7 L428.2,1610.4 L431.7,1611.0 L435.2,1611.7 L438.8,1612.4 L442.4,1613.0 L446.1,1613.7 L449.9,1614.4 L453.6,1615.0 L457.5,1615.7 L461.3,1616.4 L465.2,1617.0 L469.0,1617.7 L472.9,1618.4 L476.8,1619.0 L480.6,1619.7 L484.5,1620.4 L488.2,1621.0 L492.0,1621.7 L495.7,1622.4 L499.3,1623.0 L502.9,1623.7 L506.4,1624.4 L509.9,1625.0 L513.2,1625.7 L516.4,1626.4 L519.6,1627.0 L522.6,1627.7 L525.5,1628.4 L528.3,1629.1 L531.0,1629.7 L533.6,1630.4 L536.0,1631.1 L538.2,1631.7 L540.3,1632.4 L542.3,1633.1 L544.1,1633.7 L545.8,1634.4 L547.2,1635.1 L548.6,1635.7 L549.7,1636.4 L550.7,1637.1 L551.5,1637.7 L552.1,1638.4 L552.5,1639.1 L552.8,1639.7 L552.9,1640.4 L552.8,1641.1 L552.4,1641.7 L551.7,1642.4 L550.8,1643.1 L549.6,1643.7 L548.2,1644.4 L546.5,1645.1 L544.6,1645.8 L542.4,1646.4 L540.0,1647.1 L537.4,1647.8 L534.5,1648.4 L531.5,1649.1 L528.2,1649.8 L524.8,1650.4 L521.1,1651.1 L517.3,1651.8 L513.3,1652.5 L509.2,1653.1 L504.9,1653.8 L500.5,1654.5 L496.0,1655.1 L491.4,1655.8 L486.7,1656.5 L481.9,1657.1 L477.1,1657.8 L472.2,1658.5 L467.3,1659.1 L462.3,1659.8 L457.4,1660.5 L452.4,1661.2 L447.5,1661.8 L442.6,1662.5 L437.8,1663.2 L433.0,1663.8 L428.3,1664.5 L423.7,1665.2 L419.2,1665.8 L414.8,1666.5 L410.5,1667.2 L406.4,1667.8 L402.4,1668.5 L398.6,1669.2 L394.9,1669.9 L391.5,1670.5 L388.2,1671.2 L385.2,1671.9 L382.3,1672.5 L379.7,1673.2 L377.3,1673.9 L375.1,1674.5 L373.2,1675.2 L371.5,1675.9 L370.1,1676.6 L368.9,1677.2 L368.0,1677.9 L367.3,1678.6 L366.9,1679.2 L366.8,1679.9 L367.0,1680.6 L367.5,1681.2 L368.4,1681.9 L369.6,1682.6 L371.1,1683.3 L373.0,1683.9 L375.2,1684.6 L377.7,1685.3 L380.5,1685.9 L383.6,1686.6 L387.0,1687.3 L390.7,1688.0 L394.6,1688.6 L398.7,1689.3 L403.1,1690.0 L407.7,1690.7 L412.4,1691.3 L417.4,1692.0 L422.4,1692.7 L427.6,1693.3 L433.0,1694.0 L438.4,1694.7 L443.8,1695.4 L449.3,1696.0 L454.8,1696.7 L460.4,1697.4 L465.9,1698.0 L471.3,1698.7 L476.7,1699.4 L482.1,1700.1 L487.3,1700.7 L492.3,1701.4 L497.3,1702.1 L502.0,1702.7 L506.6,1703.4 L511.0,1704.1 L515.1,1704.8 L519.0,1705.4 L522.7,1706.1 L526.1,1706.8 L529.2,1707.5 L532.0,1708.1 L534.5,1708.8 L536.7,1709.5 L538.6,1710.1 L540.1,1710.8 L541.3,1711.5 L542.2,1712.2 L542.7,1712.8 L542.9,1713.5 L542.6,1714.2 L541.6,1714.9 L540.0,1715.5 L537.8,1716.2 L535.0,1716.9 L531.6,1717.6 L527.6,1718.3 L523.2,1719.0 L518.2,1719.6 L512.9,1720.3 L507.2,1721.0 L501.1,1721.7 L494.8,1722.4 L488.3,1723.0 L481.6,1723.7 L474.8,1724.4 L468.1,1725.1 L461.3,1725.8 L454.6,1726.5 L448.1,1727.1 L441.8,1727.8 L435.7,1728.5 L430.0,1729.2 L424.7,1729.9 L419.7,1730.5 L415.3,1731.2 L411.3,1731.9 L407.9,1732.6 L405.1,1733.3 L402.9,1734.0 L401.3,1734.6 L400.3,1735.3 L400.0,1736.0" fill="none" stroke="#000" stroke-width="1.5" clip-path="url(#c3)"/>
<line x1="238.00" y1="1451.40" x2="238.00" y2="1460.70" stroke="#000" stroke-width="1.8" stroke-linecap="butt"/>
<line x1="292.00" y1="1451.40" x2="292.00" y2="1469.40" stroke="#000" stroke-width="1.8" stroke-linecap="butt"/>
<line x1="346.00" y1="1451.40" x2="346.00" y2="1460.70" stroke="#000" stroke-width="1.8" stroke-linecap="butt"/>
<line x1="400.00" y1="1451.40" x2="400.00" y2="1469.40" stroke="#000" stroke-width="1.8" stroke-linecap="butt"/>
<line x1="454.00" y1="1451.40" x2="454.00" y2="1460.70" stroke="#000" stroke-width="1.8" stroke-linecap="butt"/>
<line x1="508.00" y1="1451.40" x2="508.00" y2="1469.40" stroke="#000" stroke-width="1.8" stroke-linecap="butt"/>
<line x1="562.00" y1="1451.40" x2="562.00" y2="1460.70" stroke="#000" stroke-width="1.8" stroke-linecap="butt"/>
<line x1="616.00" y1="1451.40" x2="616.00" y2="1469.40" stroke="#000" stroke-width="1.8" stroke-linecap="butt"/>
<line x1="670.00" y1="1451.40" x2="670.00" y2="1460.70" stroke="#000" stroke-width="1.8" stroke-linecap="butt"/>
<line x1="182.70" y1="1451.40" x2="724.90" y2="1451.40" stroke="#000" stroke-width="2.6" stroke-linecap="butt"/>
<line x1="184.00" y1="1728.00" x2="184.00" y2="1747.00" stroke="#000" stroke-width="1.8" stroke-linecap="butt"/>
<text x="184.00" y="1777.50" font-size="29.2" text-anchor="middle" fill="#000">–pi</text>
<text x="184.00" y="1813.00" font-size="29.2" text-anchor="middle" fill="#000">–50 kyr</text>
<line x1="319.00" y1="1728.00" x2="319.00" y2="1747.00" stroke="#000" stroke-width="1.8" stroke-linecap="butt"/>
<text x="319.00" y="1777.50" font-size="29.2" text-anchor="middle" fill="#000">–pi/2</text>
<text x="319.00" y="1813.00" font-size="29.2" text-anchor="middle" fill="#000">–25 kyr</text>
<line x1="454.00" y1="1728.00" x2="454.00" y2="1747.00" stroke="#000" stroke-width="1.8" stroke-linecap="butt"/>
<text x="454.00" y="1777.50" font-size="29.2" text-anchor="middle" fill="#000">0</text>
<line x1="589.00" y1="1728.00" x2="589.00" y2="1747.00" stroke="#000" stroke-width="1.8" stroke-linecap="butt"/>
<text x="589.00" y="1777.50" font-size="29.2" text-anchor="middle" fill="#000">pi/2</text>
<text x="589.00" y="1813.00" font-size="29.2" text-anchor="middle" fill="#000">25 kyr</text>
<line x1="724.00" y1="1728.00" x2="724.00" y2="1747.00" stroke="#000" stroke-width="1.8" stroke-linecap="butt"/>
<text x="724.00" y="1777.50" font-size="29.2" text-anchor="middle" fill="#000">pi</text>
<text x="724.00" y="1813.00" font-size="29.2" text-anchor="middle" fill="#000">50 kyr</text>
<text x="453.50" y="1860.50" font-size="29.2" text-anchor="middle" fill="#000">Phase (rad/kyr)</text>
<text x="82.00" y="1584.33" font-size="29.2" text-anchor="end" fill="#000">30</text>
<text x="82.00" y="1738.00" font-size="29.2" text-anchor="end" fill="#000">35</text>
<text x="21.70" y="1588.00" font-size="29.2" text-anchor="middle" fill="#000" transform="rotate(-90 21.70 1588.00)">Age (Ma)</text>
<text x="158.00" y="1571.00" font-size="29.2" text-anchor="middle" fill="#000" transform="rotate(-90 158.00 1571.00)">Oligocene</text>
<text x="148.00" y="1719.50" font-size="29.2" text-anchor="middle" fill="#000">Eo</text>
<text x="297.30" y="1438.00" font-size="29.2" text-anchor="middle" fill="#000">0.02</text>
<text x="512.40" y="1438.00" font-size="29.2" text-anchor="middle" fill="#000">0.03</text>
<text x="728.60" y="1438.00" font-size="29.2" text-anchor="middle" fill="#000">0.04</text>
<text x="228" y="1391" font-size="34" fill="#000" xml:space="preserve">~2.4–Myr eccentricity   (g<tspan font-size="23" dy="7">4</tspan><tspan dy="-7">–g</tspan><tspan font-size="23" dy="7">3</tspan><tspan dy="-7">)</tspan></text>
<polygon points="264.0,1451.4 227.6,1433.1 245.3,1451.4 227.6,1469.7" fill="#f00" stroke="#f00" stroke-width="14" stroke-linejoin="round"/>
<polygon points="691.9,1451.4 655.5,1433.1 673.2,1451.4 655.5,1469.7" fill="#f00" stroke="#f00" stroke-width="14" stroke-linejoin="round"/>
<text x="86.10" y="1418.50" font-size="29.2" text-anchor="start" fill="#f00" transform="rotate(-45 86.10 1418.50)">Ecc.</text>
<text x="111.20" y="1442.40" font-size="29.2" text-anchor="start" fill="#f00" transform="rotate(-45 111.20 1442.40)">min.</text>
<text x="710.40" y="1387.00" font-size="29.2" text-anchor="start" fill="#f00" transform="rotate(-45 710.40 1387.00)">Ecc.</text>
<text x="733.20" y="1413.80" font-size="29.2" text-anchor="start" fill="#f00" transform="rotate(-45 733.20 1413.80)">max.</text>
<g transform="translate(304 1680) rotate(-90)"><text x="0" y="0" font-size="25" xml:space="preserve"><tspan class="d">δ</tspan><tspan font-size="17.5" dy="-12">13</tspan><tspan dy="12">C</tspan><tspan dx="12">leads </tspan><tspan class="d">δ</tspan><tspan font-size="17.5" dy="-12">18</tspan><tspan dy="12" dx="1">O</tspan></text></g>
<g transform="translate(334 1681) rotate(-90)"><text x="0" y="0" font-size="25" xml:space="preserve">during <tspan fill="#f00">ecc. min.</tspan></text></g>
<rect x="186.00" y="1915.50" width="94.00" height="56.50" fill="#99cccc" stroke="none" stroke-width="0"/>
<rect x="186.00" y="1991.50" width="94.00" height="56.50" fill="#808080" stroke="none" stroke-width="0"/>
<text x="292.6" y="1951.2" font-size="25.2"><tspan class="d">δ</tspan><tspan font-size="15.5" dy="-12">13</tspan><tspan dy="12">C and </tspan><tspan class="d">δ</tspan><tspan font-size="15.5" dy="-12">18</tspan><tspan dy="12">O in anti-phase</tspan></text>
<text x="292.6" y="2027.6" font-size="25.2"><tspan class="d">δ</tspan><tspan font-size="15.5" dy="-12">13</tspan><tspan dy="12">C and </tspan><tspan class="d">δ</tspan><tspan font-size="15.5" dy="-12">18</tspan><tspan dy="12">O in phase</tspan></text>
<polyline points="79.7,498.1 755,498.1 799,617 1490,617" fill="none" stroke="#000" stroke-width="6" stroke-linecap="round" stroke-linejoin="round" stroke-dasharray="17 19" stroke-dashoffset="8.8"/>
<polyline points="83.2,1339.2 757.7,1339.2 806,1244 1490,1244" fill="none" stroke="#000" stroke-width="6" stroke-linecap="round" stroke-linejoin="round" stroke-dasharray="17 19"/>
<text x="811.00" y="30.00" font-size="41.5" text-anchor="start" fill="#000" font-weight="bold">b</text>
<text x="1189.00" y="39.20" font-size="29.2" text-anchor="middle" fill="#000">Monte Carlo assessment of correlation</text>
<text x="1189.00" y="73.70" font-size="29.2" text-anchor="middle" fill="#000">between Phase and ~2.4–Myr eccentricity</text>
<text x="1182.70" y="551.20" font-size="37.2" text-anchor="middle" fill="#000">Interval III</text>
<text x="1182.00" y="719.60" font-size="37.2" text-anchor="middle" fill="#000">Interval II</text>
<text x="1182.00" y="1375.40" font-size="37.2" text-anchor="middle" fill="#000">Interval I</text>
<path d="M920.0,371.4 C922.7,371.4 931.2,371.4 936.4,371.2 C941.5,371.0 946.3,370.9 950.9,370.1 C955.5,369.3 959.5,368.0 963.7,366.5 C968.0,365.0 972.1,363.1 976.4,361.0 C980.6,358.9 985.3,356.5 989.2,353.8 C993.1,351.1 996.7,347.9 1000.0,344.7 C1003.3,341.5 1006.2,338.3 1009.2,334.7 C1012.2,331.1 1015.3,327.1 1018.3,322.8 C1021.3,318.6 1024.4,313.8 1027.4,309.2 C1030.4,304.6 1033.5,300.2 1036.5,295.5 C1039.5,290.8 1042.6,285.9 1045.6,281.0 C1048.6,276.1 1051.7,270.8 1054.7,266.4 C1057.7,262.0 1060.8,257.9 1063.8,254.6 C1066.8,251.3 1069.9,249.0 1072.9,246.4 C1075.9,243.8 1079.0,241.5 1082.0,239.1 C1085.0,236.7 1088.0,234.1 1091.0,231.8 C1094.0,229.5 1097.4,227.1 1100.1,225.5 C1102.8,223.9 1105.1,223.1 1107.4,222.4 C1109.7,221.7 1111.7,221.5 1113.8,221.5 C1115.9,221.5 1117.9,221.9 1120.2,222.4 C1122.5,222.9 1125.0,223.8 1127.4,224.6 C1129.8,225.3 1132.6,226.4 1134.7,226.9 C1136.8,227.4 1138.4,227.5 1140.2,227.3 C1142.0,227.2 1143.2,226.8 1145.6,226.0 C1148.0,225.2 1151.7,223.6 1154.7,222.4 C1157.7,221.2 1161.2,219.6 1163.8,218.7 C1166.3,217.8 1167.8,217.4 1170.0,217.0 C1172.2,216.6 1174.6,216.0 1177.3,216.0 C1180.0,216.0 1183.5,216.6 1186.4,216.9 C1189.3,217.2 1191.9,217.7 1194.6,217.7 C1197.3,217.7 1199.9,217.0 1202.8,216.7 C1205.7,216.4 1209.1,215.9 1211.8,216.0 C1214.5,216.1 1216.4,216.4 1219.1,217.3 C1221.8,218.2 1225.2,220.0 1228.2,221.3 C1231.2,222.6 1234.3,223.7 1237.3,224.9 C1240.3,226.1 1243.7,227.2 1246.4,228.6 C1249.1,230.0 1251.3,231.2 1253.7,233.1 C1256.1,235.0 1258.3,236.9 1261.0,240.0 C1263.7,243.1 1267.1,248.0 1270.1,251.9 C1273.1,255.8 1276.2,259.9 1279.2,263.7 C1282.2,267.5 1285.3,270.7 1288.3,274.6 C1291.3,278.5 1294.4,282.8 1297.4,287.3 C1300.4,291.8 1303.5,296.7 1306.5,301.4 C1309.5,306.1 1312.6,310.9 1315.6,315.5 C1318.6,320.1 1321.7,324.9 1324.7,329.2 C1327.7,333.4 1330.8,337.5 1333.8,341.0 C1336.8,344.5 1339.9,347.4 1342.9,350.1 C1345.9,352.8 1349.0,355.3 1352.0,357.4 C1355.0,359.5 1358.0,361.4 1361.0,362.9 C1364.0,364.3 1367.1,365.2 1370.1,366.1 C1373.1,367.0 1375.5,367.6 1379.2,368.3 C1382.9,369.0 1387.5,370.0 1392.0,370.5 C1396.5,371.0 1401.0,371.1 1406.5,371.2 C1412.0,371.3 1421.9,371.4 1425.0,371.4 L1425.0,371.4 L920.0,371.4 Z" fill="#b3b3b3" stroke="none"/>
<path d="M920.0,371.4 C922.7,371.4 931.2,371.4 936.4,371.2 C941.5,371.0 946.3,370.9 950.9,370.1 C955.5,369.3 959.5,368.0 963.7,366.5 C968.0,365.0 972.1,363.1 976.4,361.0 C980.6,358.9 985.3,356.5 989.2,353.8 C993.1,351.1 996.7,347.9 1000.0,344.7 C1003.3,341.5 1006.2,338.3 1009.2,334.7 C1012.2,331.1 1015.3,327.1 1018.3,322.8 C1021.3,318.6 1024.4,313.8 1027.4,309.2 C1030.4,304.6 1033.5,300.2 1036.5,295.5 C1039.5,290.8 1042.6,285.9 1045.6,281.0 C1048.6,276.1 1051.7,270.8 1054.7,266.4 C1057.7,262.0 1060.8,257.9 1063.8,254.6 C1066.8,251.3 1069.9,249.0 1072.9,246.4 C1075.9,243.8 1079.0,241.5 1082.0,239.1 C1085.0,236.7 1088.0,234.1 1091.0,231.8 C1094.0,229.5 1097.4,227.1 1100.1,225.5 C1102.8,223.9 1105.1,223.1 1107.4,222.4 C1109.7,221.7 1111.7,221.5 1113.8,221.5 C1115.9,221.5 1117.9,221.9 1120.2,222.4 C1122.5,222.9 1125.0,223.8 1127.4,224.6 C1129.8,225.3 1132.6,226.4 1134.7,226.9 C1136.8,227.4 1138.4,227.5 1140.2,227.3 C1142.0,227.2 1143.2,226.8 1145.6,226.0 C1148.0,225.2 1151.7,223.6 1154.7,222.4 C1157.7,221.2 1161.2,219.6 1163.8,218.7 C1166.3,217.8 1167.8,217.4 1170.0,217.0 C1172.2,216.6 1174.6,216.0 1177.3,216.0 C1180.0,216.0 1183.5,216.6 1186.4,216.9 C1189.3,217.2 1191.9,217.7 1194.6,217.7 C1197.3,217.7 1199.9,217.0 1202.8,216.7 C1205.7,216.4 1209.1,215.9 1211.8,216.0 C1214.5,216.1 1216.4,216.4 1219.1,217.3 C1221.8,218.2 1225.2,220.0 1228.2,221.3 C1231.2,222.6 1234.3,223.7 1237.3,224.9 C1240.3,226.1 1243.7,227.2 1246.4,228.6 C1249.1,230.0 1251.3,231.2 1253.7,233.1 C1256.1,235.0 1258.3,236.9 1261.0,240.0 C1263.7,243.1 1267.1,248.0 1270.1,251.9 C1273.1,255.8 1276.2,259.9 1279.2,263.7 C1282.2,267.5 1285.3,270.7 1288.3,274.6 C1291.3,278.5 1294.4,282.8 1297.4,287.3 C1300.4,291.8 1303.5,296.7 1306.5,301.4 C1309.5,306.1 1312.6,310.9 1315.6,315.5 C1318.6,320.1 1321.7,324.9 1324.7,329.2 C1327.7,333.4 1330.8,337.5 1333.8,341.0 C1336.8,344.5 1339.9,347.4 1342.9,350.1 C1345.9,352.8 1349.0,355.3 1352.0,357.4 C1355.0,359.5 1358.0,361.4 1361.0,362.9 C1364.0,364.3 1367.1,365.2 1370.1,366.1 C1373.1,367.0 1375.5,367.6 1379.2,368.3 C1382.9,369.0 1387.5,370.0 1392.0,370.5 C1396.5,371.0 1401.0,371.1 1406.5,371.2 C1412.0,371.3 1421.9,371.4 1425.0,371.4" fill="none" stroke="#000" stroke-width="1.5"/>
<rect x="899.20" y="191.70" width="539.50" height="179.70" fill="none" stroke="#000" stroke-width="1.6"/>
<line x1="899.20" y1="371.40" x2="899.20" y2="381.20" stroke="#000" stroke-width="1.6" stroke-linecap="butt"/>
<text x="899.20" y="413.70" font-size="29.2" text-anchor="middle" fill="#000">–0.6</text>
<line x1="944.16" y1="371.40" x2="944.16" y2="377.70" stroke="#000" stroke-width="1.6" stroke-linecap="butt"/>
<line x1="989.12" y1="371.40" x2="989.12" y2="381.20" stroke="#000" stroke-width="1.6" stroke-linecap="butt"/>
<text x="989.12" y="413.70" font-size="29.2" text-anchor="middle" fill="#000">–0.4</text>
<line x1="1034.08" y1="371.40" x2="1034.08" y2="377.70" stroke="#000" stroke-width="1.6" stroke-linecap="butt"/>
<line x1="1079.03" y1="371.40" x2="1079.03" y2="381.20" stroke="#000" stroke-width="1.6" stroke-linecap="butt"/>
<text x="1079.03" y="413.70" font-size="29.2" text-anchor="middle" fill="#000">–0.2</text>
<line x1="1123.99" y1="371.40" x2="1123.99" y2="377.70" stroke="#000" stroke-width="1.6" stroke-linecap="butt"/>
<line x1="1168.95" y1="371.40" x2="1168.95" y2="381.20" stroke="#000" stroke-width="1.6" stroke-linecap="butt"/>
<text x="1168.95" y="413.70" font-size="29.2" text-anchor="middle" fill="#000">0</text>
<line x1="1213.91" y1="371.40" x2="1213.91" y2="377.70" stroke="#000" stroke-width="1.6" stroke-linecap="butt"/>
<line x1="1258.87" y1="371.40" x2="1258.87" y2="381.20" stroke="#000" stroke-width="1.6" stroke-linecap="butt"/>
<text x="1258.87" y="413.70" font-size="29.2" text-anchor="middle" fill="#000">0.2</text>
<line x1="1303.83" y1="371.40" x2="1303.83" y2="377.70" stroke="#000" stroke-width="1.6" stroke-linecap="butt"/>
<line x1="1348.78" y1="371.40" x2="1348.78" y2="381.20" stroke="#000" stroke-width="1.6" stroke-linecap="butt"/>
<text x="1348.78" y="413.70" font-size="29.2" text-anchor="middle" fill="#000">0.4</text>
<line x1="1393.74" y1="371.40" x2="1393.74" y2="377.70" stroke="#000" stroke-width="1.6" stroke-linecap="butt"/>
<line x1="1438.70" y1="371.40" x2="1438.70" y2="381.20" stroke="#000" stroke-width="1.6" stroke-linecap="butt"/>
<text x="1438.70" y="413.70" font-size="29.2" text-anchor="middle" fill="#000">0.6</text>
<text x="1169.50" y="454.60" font-size="29.2" text-anchor="middle" fill="#000">Simulated correlation coefficient</text>
<line x1="889.40" y1="371.40" x2="899.20" y2="371.40" stroke="#000" stroke-width="1.6" stroke-linecap="butt"/>
<text x="878.50" y="381.40" font-size="29.2" text-anchor="end" fill="#000">0</text>
<line x1="893.00" y1="326.47" x2="899.20" y2="326.47" stroke="#000" stroke-width="1.6" stroke-linecap="butt"/>
<line x1="889.40" y1="281.55" x2="899.20" y2="281.55" stroke="#000" stroke-width="1.6" stroke-linecap="butt"/>
<text x="878.50" y="291.55" font-size="29.2" text-anchor="end" fill="#000">1</text>
<line x1="893.00" y1="236.62" x2="899.20" y2="236.62" stroke="#000" stroke-width="1.6" stroke-linecap="butt"/>
<line x1="889.40" y1="191.70" x2="899.20" y2="191.70" stroke="#000" stroke-width="1.6" stroke-linecap="butt"/>
<text x="878.50" y="201.70" font-size="29.2" text-anchor="end" fill="#000">2</text>
<text x="839.60" y="281.05" font-size="29.2" text-anchor="middle" fill="#000" transform="rotate(-90 839.60 281.05)">Density</text>
<line x1="1130.7" y1="190.9" x2="1130.7" y2="370.9" stroke="#e4e4e4" stroke-width="5.2" stroke-linecap="round" stroke-dasharray="15.5 11.8"/>
<text x="1131.00" y="133.80" font-size="29.2" text-anchor="middle" fill="#b3b3b3">–0.084</text>
<text x="1131.2" y="168.4" font-size="29.2" text-anchor="middle" fill="#b3b3b3"><tspan font-style="italic">p</tspan> = 0.765</text>
<text x="1109.5" y="359.2" font-size="24.6" fill="#000"><tspan font-style="italic">N</tspan> = 10,000</text>
<path d="M915.0,1020.4 C918.6,1020.3 929.8,1020.0 936.4,1019.8 C943.0,1019.5 948.5,1019.4 954.6,1018.9 C960.7,1018.4 967.3,1017.7 972.8,1017.0 C978.2,1016.3 982.8,1015.7 987.3,1014.7 C991.8,1013.7 996.4,1012.2 1000.0,1011.0 C1003.6,1009.8 1006.2,1008.8 1009.2,1007.4 C1012.2,1006.0 1015.3,1004.6 1018.3,1002.9 C1021.3,1001.2 1024.4,999.3 1027.4,997.0 C1030.4,994.7 1033.5,992.3 1036.5,989.2 C1039.5,986.1 1042.6,981.9 1045.6,978.3 C1048.6,974.7 1051.7,971.0 1054.7,967.4 C1057.7,963.8 1060.8,960.3 1063.8,956.8 C1066.8,953.3 1069.9,950.2 1072.9,946.4 C1075.9,942.5 1079.0,937.9 1082.0,933.7 C1085.0,929.5 1088.0,925.1 1091.0,921.0 C1094.0,916.9 1097.1,912.7 1100.1,909.2 C1103.1,905.7 1106.2,902.9 1109.2,900.1 C1112.2,897.3 1115.3,895.3 1118.3,892.4 C1121.3,889.5 1124.4,886.1 1127.4,882.8 C1130.4,879.5 1133.5,875.3 1136.5,872.4 C1139.5,869.5 1142.6,867.2 1145.6,865.5 C1148.6,863.8 1152.0,862.9 1154.7,862.2 C1157.4,861.5 1159.5,861.3 1162.0,861.3 C1164.5,861.3 1167.2,861.6 1170.0,862.4 C1172.8,863.1 1176.2,864.9 1179.1,865.8 C1182.0,866.7 1184.6,867.5 1187.3,867.7 C1190.0,868.0 1192.9,866.9 1195.5,867.3 C1198.1,867.7 1200.1,868.2 1202.8,870.0 C1205.5,871.8 1208.8,875.0 1211.8,878.2 C1214.8,881.4 1217.9,885.8 1220.9,889.1 C1223.9,892.4 1227.0,895.0 1230.0,898.2 C1233.0,901.4 1236.1,904.4 1239.1,908.2 C1242.1,912.0 1245.2,916.6 1248.2,921.0 C1251.2,925.4 1254.3,930.1 1257.3,934.6 C1260.3,939.1 1263.4,944.0 1266.4,948.3 C1269.4,952.5 1272.5,956.6 1275.5,960.1 C1278.5,963.6 1281.6,966.3 1284.6,969.2 C1287.6,972.1 1290.7,974.8 1293.7,977.4 C1296.7,980.0 1299.5,982.3 1302.8,984.7 C1306.1,987.1 1310.0,989.3 1313.7,991.9 C1317.4,994.5 1321.4,997.6 1324.7,1000.1 C1328.0,1002.6 1330.8,1004.9 1333.8,1006.9 C1336.8,1008.9 1339.9,1010.5 1342.9,1011.9 C1345.9,1013.2 1348.7,1014.1 1352.0,1015.0 C1355.3,1015.9 1359.0,1016.4 1362.9,1017.0 C1366.8,1017.6 1370.8,1018.4 1375.6,1018.9 C1380.4,1019.4 1385.9,1019.6 1392.0,1019.8 C1398.1,1020.0 1405.7,1020.2 1412.0,1020.3 C1418.3,1020.4 1427.0,1020.5 1430.0,1020.5 L1430.0,1020.5 L915.0,1020.5 Z" fill="#b3b3b3" stroke="none"/>
<path d="M915.0,1020.4 C918.6,1020.3 929.8,1020.0 936.4,1019.8 C943.0,1019.5 948.5,1019.4 954.6,1018.9 C960.7,1018.4 967.3,1017.7 972.8,1017.0 C978.2,1016.3 982.8,1015.7 987.3,1014.7 C991.8,1013.7 996.4,1012.2 1000.0,1011.0 C1003.6,1009.8 1006.2,1008.8 1009.2,1007.4 C1012.2,1006.0 1015.3,1004.6 1018.3,1002.9 C1021.3,1001.2 1024.4,999.3 1027.4,997.0 C1030.4,994.7 1033.5,992.3 1036.5,989.2 C1039.5,986.1 1042.6,981.9 1045.6,978.3 C1048.6,974.7 1051.7,971.0 1054.7,967.4 C1057.7,963.8 1060.8,960.3 1063.8,956.8 C1066.8,953.3 1069.9,950.2 1072.9,946.4 C1075.9,942.5 1079.0,937.9 1082.0,933.7 C1085.0,929.5 1088.0,925.1 1091.0,921.0 C1094.0,916.9 1097.1,912.7 1100.1,909.2 C1103.1,905.7 1106.2,902.9 1109.2,900.1 C1112.2,897.3 1115.3,895.3 1118.3,892.4 C1121.3,889.5 1124.4,886.1 1127.4,882.8 C1130.4,879.5 1133.5,875.3 1136.5,872.4 C1139.5,869.5 1142.6,867.2 1145.6,865.5 C1148.6,863.8 1152.0,862.9 1154.7,862.2 C1157.4,861.5 1159.5,861.3 1162.0,861.3 C1164.5,861.3 1167.2,861.6 1170.0,862.4 C1172.8,863.1 1176.2,864.9 1179.1,865.8 C1182.0,866.7 1184.6,867.5 1187.3,867.7 C1190.0,868.0 1192.9,866.9 1195.5,867.3 C1198.1,867.7 1200.1,868.2 1202.8,870.0 C1205.5,871.8 1208.8,875.0 1211.8,878.2 C1214.8,881.4 1217.9,885.8 1220.9,889.1 C1223.9,892.4 1227.0,895.0 1230.0,898.2 C1233.0,901.4 1236.1,904.4 1239.1,908.2 C1242.1,912.0 1245.2,916.6 1248.2,921.0 C1251.2,925.4 1254.3,930.1 1257.3,934.6 C1260.3,939.1 1263.4,944.0 1266.4,948.3 C1269.4,952.5 1272.5,956.6 1275.5,960.1 C1278.5,963.6 1281.6,966.3 1284.6,969.2 C1287.6,972.1 1290.7,974.8 1293.7,977.4 C1296.7,980.0 1299.5,982.3 1302.8,984.7 C1306.1,987.1 1310.0,989.3 1313.7,991.9 C1317.4,994.5 1321.4,997.6 1324.7,1000.1 C1328.0,1002.6 1330.8,1004.9 1333.8,1006.9 C1336.8,1008.9 1339.9,1010.5 1342.9,1011.9 C1345.9,1013.2 1348.7,1014.1 1352.0,1015.0 C1355.3,1015.9 1359.0,1016.4 1362.9,1017.0 C1366.8,1017.6 1370.8,1018.4 1375.6,1018.9 C1380.4,1019.4 1385.9,1019.6 1392.0,1019.8 C1398.1,1020.0 1405.7,1020.2 1412.0,1020.3 C1418.3,1020.4 1427.0,1020.5 1430.0,1020.5" fill="none" stroke="#000" stroke-width="1.5"/>
<rect x="899.60" y="840.70" width="538.90" height="179.80" fill="none" stroke="#000" stroke-width="1.6"/>
<line x1="899.60" y1="1020.50" x2="899.60" y2="1030.30" stroke="#000" stroke-width="1.6" stroke-linecap="butt"/>
<text x="899.60" y="1062.10" font-size="29.2" text-anchor="middle" fill="#000">–0.4</text>
<line x1="966.96" y1="1020.50" x2="966.96" y2="1026.80" stroke="#000" stroke-width="1.6" stroke-linecap="butt"/>
<line x1="1034.33" y1="1020.50" x2="1034.33" y2="1030.30" stroke="#000" stroke-width="1.6" stroke-linecap="butt"/>
<text x="1034.33" y="1062.10" font-size="29.2" text-anchor="middle" fill="#000">–0.2</text>
<line x1="1101.69" y1="1020.50" x2="1101.69" y2="1026.80" stroke="#000" stroke-width="1.6" stroke-linecap="butt"/>
<line x1="1169.05" y1="1020.50" x2="1169.05" y2="1030.30" stroke="#000" stroke-width="1.6" stroke-linecap="butt"/>
<text x="1169.05" y="1062.10" font-size="29.2" text-anchor="middle" fill="#000">0</text>
<line x1="1236.41" y1="1020.50" x2="1236.41" y2="1026.80" stroke="#000" stroke-width="1.6" stroke-linecap="butt"/>
<line x1="1303.78" y1="1020.50" x2="1303.78" y2="1030.30" stroke="#000" stroke-width="1.6" stroke-linecap="butt"/>
<text x="1303.78" y="1062.10" font-size="29.2" text-anchor="middle" fill="#000">0.2</text>
<line x1="1371.14" y1="1020.50" x2="1371.14" y2="1026.80" stroke="#000" stroke-width="1.6" stroke-linecap="butt"/>
<line x1="1438.50" y1="1020.50" x2="1438.50" y2="1030.30" stroke="#000" stroke-width="1.6" stroke-linecap="butt"/>
<text x="1438.50" y="1062.10" font-size="29.2" text-anchor="middle" fill="#000">0.4</text>
<text x="1169.50" y="1107.30" font-size="29.2" text-anchor="middle" fill="#000">Simulated correlation coefficient</text>
<line x1="889.80" y1="1020.50" x2="899.60" y2="1020.50" stroke="#000" stroke-width="1.6" stroke-linecap="butt"/>
<text x="875.20" y="1030.50" font-size="29.2" text-anchor="end" fill="#000">0</text>
<line x1="893.40" y1="975.55" x2="899.60" y2="975.55" stroke="#000" stroke-width="1.6" stroke-linecap="butt"/>
<line x1="889.80" y1="930.60" x2="899.60" y2="930.60" stroke="#000" stroke-width="1.6" stroke-linecap="butt"/>
<text x="875.20" y="940.60" font-size="29.2" text-anchor="end" fill="#000">2</text>
<line x1="893.40" y1="885.65" x2="899.60" y2="885.65" stroke="#000" stroke-width="1.6" stroke-linecap="butt"/>
<line x1="889.80" y1="840.70" x2="899.60" y2="840.70" stroke="#000" stroke-width="1.6" stroke-linecap="butt"/>
<text x="875.20" y="850.70" font-size="29.2" text-anchor="end" fill="#000">4</text>
<text x="835.60" y="930.10" font-size="29.2" text-anchor="middle" fill="#000" transform="rotate(-90 835.60 930.10)">Denisty</text>
<line x1="1007.5" y1="839.9" x2="1007.5" y2="1020.0" stroke="#f00" stroke-width="5.2" stroke-linecap="round" stroke-dasharray="17.5 9.8"/>
<text x="1007.80" y="786.00" font-size="29.2" text-anchor="middle" fill="#f00">–0.240</text>
<text x="1008.0" y="821.6" font-size="29.2" text-anchor="middle" fill="#f00"><tspan font-style="italic">p</tspan> = 0.015</text>
<text x="1109.5" y="1008.3" font-size="24.6" fill="#000"><tspan font-style="italic">N</tspan> = 10,000</text>
<path d="M905.0,1686.4 C908.7,1686.3 919.6,1686.2 927.3,1686.0 C934.9,1685.8 944.2,1685.5 950.9,1685.1 C957.6,1684.7 962.1,1684.5 967.3,1683.7 C972.5,1683.0 977.3,1681.7 981.9,1680.6 C986.5,1679.5 990.7,1678.5 994.6,1677.0 C998.5,1675.5 1001.9,1673.6 1005.5,1671.5 C1009.1,1669.4 1012.8,1666.8 1016.4,1664.2 C1020.0,1661.6 1023.8,1659.0 1027.4,1656.0 C1031.1,1653.0 1034.7,1649.6 1038.3,1646.0 C1041.9,1642.4 1045.6,1638.5 1049.2,1634.2 C1052.8,1630.0 1056.5,1625.0 1060.1,1620.5 C1063.7,1616.0 1067.3,1611.3 1071.0,1606.9 C1074.7,1602.5 1078.7,1597.8 1082.0,1594.2 C1085.3,1590.6 1088.0,1588.1 1091.0,1585.1 C1094.0,1582.1 1097.1,1579.2 1100.1,1576.0 C1103.1,1572.8 1106.2,1569.0 1109.2,1566.0 C1112.2,1563.0 1115.3,1560.3 1118.3,1557.8 C1121.3,1555.3 1124.4,1552.9 1127.4,1551.0 C1130.4,1549.1 1133.8,1547.5 1136.5,1546.5 C1139.2,1545.5 1141.1,1545.3 1143.8,1545.0 C1146.5,1544.7 1150.2,1545.2 1152.9,1544.7 C1155.6,1544.2 1157.4,1543.7 1160.2,1542.3 C1163.0,1540.9 1167.5,1538.0 1170.0,1536.5 C1172.5,1535.0 1173.7,1534.2 1175.5,1533.6 C1177.3,1533.0 1178.8,1532.4 1180.9,1532.8 C1183.0,1533.2 1185.5,1534.2 1188.2,1535.9 C1190.9,1537.6 1194.3,1540.8 1197.3,1543.2 C1200.3,1545.6 1203.4,1548.2 1206.4,1550.1 C1209.4,1552.0 1212.5,1553.1 1215.5,1554.7 C1218.5,1556.3 1221.6,1557.0 1224.6,1559.6 C1227.6,1562.2 1230.7,1566.4 1233.7,1570.5 C1236.7,1574.6 1239.8,1580.2 1242.8,1584.2 C1245.8,1588.2 1248.9,1591.7 1251.9,1594.7 C1254.9,1597.7 1258.0,1599.6 1261.0,1602.4 C1264.0,1605.2 1267.1,1607.9 1270.1,1611.4 C1273.1,1614.9 1276.2,1619.3 1279.2,1623.3 C1282.2,1627.2 1285.3,1631.5 1288.3,1635.1 C1291.3,1638.7 1294.4,1641.9 1297.4,1645.1 C1300.4,1648.3 1303.5,1651.3 1306.5,1654.2 C1309.5,1657.1 1312.6,1660.0 1315.6,1662.4 C1318.6,1664.8 1321.7,1667.0 1324.7,1668.8 C1327.7,1670.6 1330.8,1671.9 1333.8,1673.3 C1336.8,1674.7 1339.3,1675.9 1342.9,1677.0 C1346.5,1678.1 1351.1,1679.0 1355.6,1680.0 C1360.1,1681.0 1365.2,1682.4 1370.1,1683.3 C1374.9,1684.2 1378.6,1684.8 1384.7,1685.3 C1390.8,1685.8 1399.3,1685.8 1406.5,1686.0 C1413.7,1686.2 1424.4,1686.3 1428.0,1686.4 L1428.0,1686.4 L905.0,1686.4 Z" fill="#b3b3b3" stroke="none"/>
<path d="M905.0,1686.4 C908.7,1686.3 919.6,1686.2 927.3,1686.0 C934.9,1685.8 944.2,1685.5 950.9,1685.1 C957.6,1684.7 962.1,1684.5 967.3,1683.7 C972.5,1683.0 977.3,1681.7 981.9,1680.6 C986.5,1679.5 990.7,1678.5 994.6,1677.0 C998.5,1675.5 1001.9,1673.6 1005.5,1671.5 C1009.1,1669.4 1012.8,1666.8 1016.4,1664.2 C1020.0,1661.6 1023.8,1659.0 1027.4,1656.0 C1031.1,1653.0 1034.7,1649.6 1038.3,1646.0 C1041.9,1642.4 1045.6,1638.5 1049.2,1634.2 C1052.8,1630.0 1056.5,1625.0 1060.1,1620.5 C1063.7,1616.0 1067.3,1611.3 1071.0,1606.9 C1074.7,1602.5 1078.7,1597.8 1082.0,1594.2 C1085.3,1590.6 1088.0,1588.1 1091.0,1585.1 C1094.0,1582.1 1097.1,1579.2 1100.1,1576.0 C1103.1,1572.8 1106.2,1569.0 1109.2,1566.0 C1112.2,1563.0 1115.3,1560.3 1118.3,1557.8 C1121.3,1555.3 1124.4,1552.9 1127.4,1551.0 C1130.4,1549.1 1133.8,1547.5 1136.5,1546.5 C1139.2,1545.5 1141.1,1545.3 1143.8,1545.0 C1146.5,1544.7 1150.2,1545.2 1152.9,1544.7 C1155.6,1544.2 1157.4,1543.7 1160.2,1542.3 C1163.0,1540.9 1167.5,1538.0 1170.0,1536.5 C1172.5,1535.0 1173.7,1534.2 1175.5,1533.6 C1177.3,1533.0 1178.8,1532.4 1180.9,1532.8 C1183.0,1533.2 1185.5,1534.2 1188.2,1535.9 C1190.9,1537.6 1194.3,1540.8 1197.3,1543.2 C1200.3,1545.6 1203.4,1548.2 1206.4,1550.1 C1209.4,1552.0 1212.5,1553.1 1215.5,1554.7 C1218.5,1556.3 1221.6,1557.0 1224.6,1559.6 C1227.6,1562.2 1230.7,1566.4 1233.7,1570.5 C1236.7,1574.6 1239.8,1580.2 1242.8,1584.2 C1245.8,1588.2 1248.9,1591.7 1251.9,1594.7 C1254.9,1597.7 1258.0,1599.6 1261.0,1602.4 C1264.0,1605.2 1267.1,1607.9 1270.1,1611.4 C1273.1,1614.9 1276.2,1619.3 1279.2,1623.3 C1282.2,1627.2 1285.3,1631.5 1288.3,1635.1 C1291.3,1638.7 1294.4,1641.9 1297.4,1645.1 C1300.4,1648.3 1303.5,1651.3 1306.5,1654.2 C1309.5,1657.1 1312.6,1660.0 1315.6,1662.4 C1318.6,1664.8 1321.7,1667.0 1324.7,1668.8 C1327.7,1670.6 1330.8,1671.9 1333.8,1673.3 C1336.8,1674.7 1339.3,1675.9 1342.9,1677.0 C1346.5,1678.1 1351.1,1679.0 1355.6,1680.0 C1360.1,1681.0 1365.2,1682.4 1370.1,1683.3 C1374.9,1684.2 1378.6,1684.8 1384.7,1685.3 C1390.8,1685.8 1399.3,1685.8 1406.5,1686.0 C1413.7,1686.2 1424.4,1686.3 1428.0,1686.4" fill="none" stroke="#000" stroke-width="1.5"/>
<rect x="899.00" y="1506.30" width="539.50" height="180.10" fill="none" stroke="#000" stroke-width="1.6"/>
<line x1="899.00" y1="1686.40" x2="899.00" y2="1696.20" stroke="#000" stroke-width="1.6" stroke-linecap="butt"/>
<text x="899.00" y="1730.00" font-size="29.2" text-anchor="middle" fill="#000">–0.8</text>
<line x1="966.44" y1="1686.40" x2="966.44" y2="1692.70" stroke="#000" stroke-width="1.6" stroke-linecap="butt"/>
<line x1="1033.88" y1="1686.40" x2="1033.88" y2="1696.20" stroke="#000" stroke-width="1.6" stroke-linecap="butt"/>
<text x="1033.88" y="1730.00" font-size="29.2" text-anchor="middle" fill="#000">–0.4</text>
<line x1="1101.31" y1="1686.40" x2="1101.31" y2="1692.70" stroke="#000" stroke-width="1.6" stroke-linecap="butt"/>
<line x1="1168.75" y1="1686.40" x2="1168.75" y2="1696.20" stroke="#000" stroke-width="1.6" stroke-linecap="butt"/>
<text x="1168.75" y="1730.00" font-size="29.2" text-anchor="middle" fill="#000">0</text>
<line x1="1236.19" y1="1686.40" x2="1236.19" y2="1692.70" stroke="#000" stroke-width="1.6" stroke-linecap="butt"/>
<line x1="1303.62" y1="1686.40" x2="1303.62" y2="1696.20" stroke="#000" stroke-width="1.6" stroke-linecap="butt"/>
<text x="1303.62" y="1730.00" font-size="29.2" text-anchor="middle" fill="#000">0.4</text>
<line x1="1371.06" y1="1686.40" x2="1371.06" y2="1692.70" stroke="#000" stroke-width="1.6" stroke-linecap="butt"/>
<line x1="1438.50" y1="1686.40" x2="1438.50" y2="1696.20" stroke="#000" stroke-width="1.6" stroke-linecap="butt"/>
<text x="1438.50" y="1730.00" font-size="29.2" text-anchor="middle" fill="#000">0.8</text>
<text x="1169.50" y="1773.00" font-size="29.2" text-anchor="middle" fill="#000">Simulated correlation coefficient</text>
<line x1="889.20" y1="1686.40" x2="899.00" y2="1686.40" stroke="#000" stroke-width="1.6" stroke-linecap="butt"/>
<text x="874.40" y="1696.40" font-size="29.2" text-anchor="end" fill="#000">0</text>
<line x1="892.80" y1="1641.38" x2="899.00" y2="1641.38" stroke="#000" stroke-width="1.6" stroke-linecap="butt"/>
<line x1="889.20" y1="1596.35" x2="899.00" y2="1596.35" stroke="#000" stroke-width="1.6" stroke-linecap="butt"/>
<text x="874.40" y="1606.35" font-size="29.2" text-anchor="end" fill="#000">1</text>
<line x1="892.80" y1="1551.32" x2="899.00" y2="1551.32" stroke="#000" stroke-width="1.6" stroke-linecap="butt"/>
<line x1="889.20" y1="1506.30" x2="899.00" y2="1506.30" stroke="#000" stroke-width="1.6" stroke-linecap="butt"/>
<text x="874.40" y="1516.30" font-size="29.2" text-anchor="end" fill="#000">2</text>
<text x="835.10" y="1595.85" font-size="29.2" text-anchor="middle" fill="#000" transform="rotate(-90 835.10 1595.85)">Density</text>
<line x1="1302.8" y1="1505.5" x2="1302.8" y2="1685.9" stroke="#f00" stroke-width="5.2" stroke-linecap="round" stroke-dasharray="17.5 9.8"/>
<text x="1303.10" y="1452.80" font-size="29.2" text-anchor="middle" fill="#f00">0.399</text>
<text x="1303.3" y="1488.3" font-size="29.2" text-anchor="middle" fill="#f00"><tspan font-style="italic">p</tspan> = 0.060</text>
<text x="1109.5" y="1673.3" font-size="24.6" fill="#000"><tspan font-style="italic">N</tspan> = 10,000</text>
</svg></body></html>
